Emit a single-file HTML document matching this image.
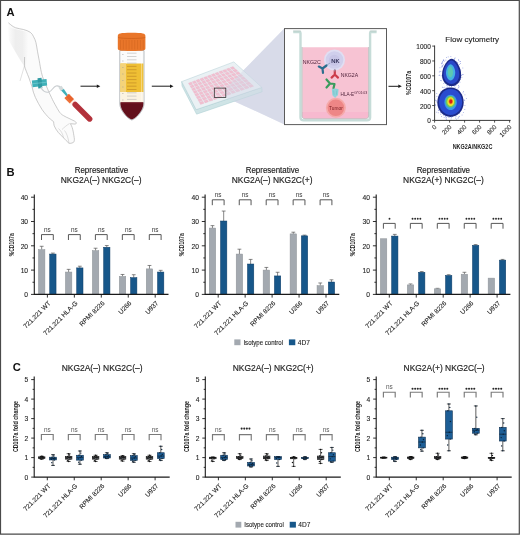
<!DOCTYPE html><html><head><meta charset="utf-8"><style>html,body{margin:0;padding:0;background:#fff;}svg{display:block;will-change:transform;}</style></head><body>
<svg width="520" height="535" viewBox="0 0 520 535" font-family='"Liberation Sans", sans-serif'>
<rect width="520" height="535" fill="#fff"/>
<defs><linearGradient id="sh" x1="0" y1="0" x2="1" y2="0"><stop offset="0" stop-color="#fbfbfb"/><stop offset="0.35" stop-color="#eeeeee"/><stop offset="0.7" stop-color="#efefef"/><stop offset="1" stop-color="#fbfbfb"/></linearGradient></defs>
<path d="M8.4 22.8 C11 25 13 26.8 15.7 27.8 C18.5 28.6 21 29 23.5 29.5 C26 30.2 28.5 31 30.3 32.3 C31.8 33.5 32.9 35 33.6 36.8 C34.6 38.5 35.4 40.5 35.9 42.4 C36.6 45.5 37 48.5 37.5 51.4 C38.1 54.5 38.6 57.5 39.2 60.3 C40 65 40.6 69 41.4 72.4 C42.6 77.5 44.5 82.5 46.8 87 C48 90 49 92.5 50.2 94.8 C52 98.5 53 101 54.9 104.2 C56.5 107 58 110 59.6 112.3 C61 114 62.3 115 63.6 115.7 C65.5 116.8 67 117.5 69 118.4 C71 119.5 73 120.3 74.4 121 C75.5 121.7 76.4 122.4 76.4 123.1 C76.2 123.8 75.5 124.1 75.1 124.1 L70.4 123.7 C71.8 126 72.6 128.5 73.1 131.1 C73.6 134 74.2 137 74.4 139.2 C74.4 141 74 142.2 73.1 142.6 C71.8 143.3 70.2 143.5 69 143.3 C67 141.5 65.2 139.6 63.6 137.9 C61.8 136 60 134.3 58.3 132.5 C56.6 130.5 55.2 128 54.2 125.8 C53.8 124.4 53.7 123 53.6 121.7 C52.5 120.8 51.3 120 50.2 119 C47 116 44.5 113 42.1 109.6 C39.5 105.5 37.2 101.5 35.4 97.5 C33.8 94 32.8 90.5 32 86.7 C30.5 82.5 29.8 80.5 29 78 C27 73 25.5 69.5 24.4 66 C24.5 63 24.6 60 24.6 57 C21 52 14 44 9 38 C8.5 32 8.4 27 8.4 22.8 Z" fill="#fbfbfb"/>
<path d="M8.6 27 C12 28.5 20 30 28 32.5 C29 45 27.5 58 25.5 68 C20 60 13 48 8.8 40 Z" fill="url(#sh)"/>
<path d="M8.4 22.8 C11 25 13 26.8 15.7 27.8 C18.5 28.6 21 29 23.5 29.5 C26 30.2 28.5 31 30.3 32.3 C31.8 33.5 32.9 35 33.6 36.8 C34.6 38.5 35.4 40.5 35.9 42.4 C36.6 45.5 37 48.5 37.5 51.4 C38.1 54.5 38.6 57.5 39.2 60.3 C40 65 40.6 69 41.4 72.4 C42.6 77.5 44.5 82.5 46.8 87 C48 90 49 92.5 50.2 94.8 C52 98.5 53 101 54.9 104.2 C56.5 107 58 110 59.6 112.3 C61 114 62.3 115 63.6 115.7 C65.5 116.8 67 117.5 69 118.4 C71 119.5 73 120.3 74.4 121 C75.5 121.7 76.4 122.4 76.4 123.1 C76.2 123.8 75.5 124.1 75.1 124.1 L70.4 123.7 C71.8 126 72.6 128.5 73.1 131.1 C73.6 134 74.2 137 74.4 139.2 C74.4 141 74 142.2 73.1 142.6 C71.8 143.3 70.2 143.5 69 143.3 C67 141.5 65.2 139.6 63.6 137.9 C61.8 136 60 134.3 58.3 132.5 C56.6 130.5 55.2 128 54.2 125.8 C53.8 124.4 53.7 123 53.6 121.7 C52.5 120.8 51.3 120 50.2 119 C47 116 44.5 113 42.1 109.6 C39.5 105.5 37.2 101.5 35.4 97.5 C33.8 94 32.8 90.5 32 86.7 C30.5 82.5 29.8 80.5 29 78 C27 73 25.5 69.5 24.4 66 C24.5 63 24.6 60 24.6 57" fill="none" stroke="#a9a9a9" stroke-width="0.6"/>
<path d="M24.4 66 C23 71 21.5 76 20 81" fill="none" stroke="#c4c4c4" stroke-width="0.5"/>
<path d="M69.5 123.5 C67 125 64 127.5 62 129.5 M63.6 137.9 C62.5 133 61 131 58.5 128.5 M69 143.3 C68 137 66.5 133 64.5 130.5" stroke="#b9b9b9" stroke-width="0.45" fill="none"/>
<path d="M31.8 80.5 L46.5 79 L47.2 85.4 L32.6 87.2 Z" fill="#3fb0b8"/>
<path d="M37.5 78.2 L41.5 77.8 L42.3 88 L38.3 88.4 Z" fill="#2f9aa3"/>
<path d="M32 83.8 L47 82.2" stroke="#7fd0d6" stroke-width="0.6"/>
<path d="M41 87 C42 91 46 93 49 92 C52 91 53 87 56 86 C58 85.5 60 86.5 61.5 88" fill="none" stroke="#c9cdd0" stroke-width="1.1"/>
<path d="M58.4 87.4 L61.6 85.8 L64 89.6 L60.8 91.2 Z" fill="#d3dadb"/>
<path d="M61.2 90.4 L63.9 88.9 L67.9 95 L66.4 96.2 Z" fill="#3fb1ba"/>
<g transform="translate(69.6 98.9) rotate(-45)"><rect x="-3.1" y="-4.2" width="6.2" height="7.6" rx="0.6" fill="#e8642e"/><rect x="-3.1" y="-4.2" width="2" height="7.6" fill="#f07a40" opacity="0.6"/><rect x="-3" y="3.4" width="6" height="1.8" fill="#fbeae2"/><rect x="-2.75" y="5.1" width="5.5" height="26" rx="2.75" fill="#b5333c"/><path d="M-1 6 V29 M1 6 V29" stroke="#9e2a33" stroke-width="0.35"/></g>
<path d="M80.5 86.2H97.3" stroke="#1a1a1a" stroke-width="1"/>
<path d="M96.8 84.4L100.3 86.2L96.8 88Z" fill="#1a1a1a"/>
<path d="M119.8 50.5 L144 50.5 L144 104 C144 110 136 119 131.8 120 C127.5 119 119.8 110 119.8 104 Z" fill="#fbfbfb" stroke="#9aa0a6" stroke-width="0.7"/>
<path d="M120.4 63.5 L143.4 63.5 L143.4 92 L120.4 92 Z" fill="#efbf34"/>
<path d="M120.4 63.5 L126 63.5 L126 92 L120.4 92 Z" fill="#f4d37a"/>
<path d="M120.4 92 L143.4 92 L143.4 102.3 L120.4 102.3 Z" fill="#fbf3e2"/>
<path d="M120.4 102.3 L143.4 102.3 L143.4 104 C143.4 110 136 118.5 131.8 119.4 C127.5 118.5 120.4 110 120.4 104 Z" fill="#63101c"/>
<path d="M121 103 L143 103" stroke="#7a1a26" stroke-width="0.8"/>
<path d="M127 66.4H136.5M127 69.7H136.5M127 73H136.5M127 76.3H136.5M127 79.6H136.5M127 82.9H136.5M127 86.2H136.5M127 89.5H136.5" stroke="#b57d22" stroke-width="0.55"/>
<path d="M127 53.2H136.5M127 56.5H136.5M127 59.8H136.5M127 63.1H136.5M127 92.8H136.5M127 96.1H136.5M127 99.4H136.5" stroke="#a8a8a8" stroke-width="0.5"/>
<path d="M122 54.5h1.6M122 61h1.6M122 67.5h1.6M122 74h1.6M122 80.5h1.6M122 87h1.6M122 93.5h1.6M122 100h1.6" stroke="#9a9a9a" stroke-width="0.45"/>
<path d="M141.6 52 V101" stroke="#ffffff" stroke-width="0.8" opacity="0.5"/>
<path d="M117.8 36 C117.8 33.5 120 32.8 131.5 32.8 C143 32.8 145.4 33.5 145.4 36 L145.4 48.5 C145.4 50.3 143.5 51 131.5 51 C119.5 51 117.8 50.3 117.8 48.5 Z" fill="#e9762a"/>
<path d="M118 37.5 C122 38.8 141 38.8 145.2 37.5" stroke="#c75a16" stroke-width="0.6" fill="none"/>
<path d="M120.5 40V49.5M123.35 40V49.5M126.2 40V49.5M129.05 40V49.5M131.9 40V49.5M134.75 40V49.5M137.6 40V49.5M140.45 40V49.5M143.3 40V49.5" stroke="#c95e1a" stroke-width="0.5" opacity="0.8"/>
<path d="M151.8 86.2H170.5" stroke="#1a1a1a" stroke-width="1"/>
<path d="M170 84.4L173.5 86.2L170 88Z" fill="#1a1a1a"/>
<path d="M225.8 88.3 L284.3 28.6 L284.5 124.4 L225.8 97.4 Z" fill="#dcdfec"/>
<path d="M181.7 81.6L196.2 109.6L261.8 87.4L262.1 91.8L196.6 114.2L182 86Z" fill="#cfe4e6" stroke="#a9cdd1" stroke-width="0.5"/>
<path d="M181.7 81.6L233.8 61.9L261.8 87.4L196.2 109.6Z" fill="#eaf1f4" stroke="#b3cfd4" stroke-width="0.5"/>
<path d="M188.49 83.14L191.37 82.07L192.6 84.15L189.67 85.23ZM192.27 81.73L195.15 80.66L196.46 82.72L193.53 83.8ZM196.06 80.33L198.93 79.25L200.31 81.3L197.38 82.38ZM199.84 78.92L202.72 77.85L204.17 79.88L201.24 80.96ZM203.63 77.51L206.5 76.44L208.03 78.46L205.1 79.54ZM207.41 76.1L210.29 75.03L211.88 77.04L208.95 78.12ZM211.2 74.69L214.07 73.62L215.74 75.61L212.81 76.7ZM214.98 73.28L217.86 72.21L219.59 74.19L216.66 75.27ZM218.77 71.87L221.64 70.8L223.45 72.77L220.52 73.85ZM222.55 70.46L225.43 69.39L227.31 71.35L224.38 72.43ZM226.33 69.06L229.21 67.99L231.16 69.93L228.23 71.01ZM230.12 67.65L233 66.58L235.02 68.51L232.09 69.59ZM190.05 85.88L192.99 84.8L194.23 86.87L191.23 87.97ZM193.92 84.46L196.87 83.37L198.18 85.44L195.18 86.53ZM197.8 83.03L200.75 81.95L202.13 84L199.13 85.09ZM201.68 81.61L204.63 80.52L206.08 82.56L203.08 83.65ZM205.56 80.18L208.51 79.1L210.03 81.12L207.03 82.21ZM209.44 78.75L212.39 77.67L213.98 79.68L210.98 80.77ZM213.32 77.33L216.26 76.24L217.93 78.24L214.93 79.33ZM217.19 75.9L220.14 74.82L221.88 76.8L218.88 77.89ZM221.07 74.48L224.02 73.39L225.83 75.36L222.83 76.45ZM224.95 73.05L227.9 71.97L229.78 73.92L226.78 75.01ZM228.83 71.62L231.78 70.54L233.73 72.48L230.73 73.58ZM232.71 70.2L235.66 69.11L237.68 71.04L234.68 72.14ZM191.6 88.63L194.62 87.53L195.86 89.6L192.79 90.71ZM195.57 87.18L198.59 86.09L199.9 88.15L196.83 89.25ZM199.55 85.74L202.57 84.64L203.95 86.69L200.87 87.8ZM203.52 84.3L206.54 83.2L207.99 85.23L204.92 86.34ZM207.49 82.85L210.51 81.76L212.03 83.78L208.96 84.88ZM211.46 81.41L214.48 80.31L216.08 82.32L213 83.43ZM215.44 79.97L218.45 78.87L220.12 80.86L217.05 81.97ZM219.41 78.52L222.43 77.43L224.16 79.41L221.09 80.51ZM223.38 77.08L226.4 75.98L228.21 77.95L225.13 79.06ZM227.35 75.64L230.37 74.54L232.25 76.49L229.18 77.6ZM231.33 74.19L234.34 73.09L236.29 75.04L233.22 76.14ZM235.3 72.75L238.32 71.65L240.34 73.58L237.27 74.69ZM193.16 91.37L196.25 90.26L197.49 92.33L194.34 93.45ZM197.22 89.91L200.32 88.8L201.62 90.86L198.48 91.98ZM201.29 88.45L204.38 87.34L205.76 89.38L202.62 90.5ZM205.36 86.99L208.45 85.88L209.9 87.91L206.75 89.03ZM209.42 85.52L212.51 84.41L214.04 86.44L210.89 87.56ZM213.49 84.06L216.58 82.95L218.17 84.96L215.03 86.08ZM217.56 82.6L220.65 81.49L222.31 83.49L219.17 84.61ZM221.62 81.14L224.71 80.03L226.45 82.01L223.3 83.13ZM225.69 79.68L228.78 78.57L230.59 80.54L227.44 81.66ZM229.75 78.22L232.84 77.11L234.72 79.07L231.58 80.19ZM233.82 76.76L236.91 75.65L238.86 77.59L235.72 78.71ZM237.89 75.3L240.98 74.19L243 76.12L239.85 77.24ZM194.72 94.11L197.88 92.99L199.11 95.06L195.9 96.19ZM198.88 92.63L202.04 91.51L203.35 93.57L200.13 94.7ZM203.04 91.15L206.2 90.03L207.58 92.08L204.36 93.21ZM207.2 89.68L210.36 88.55L211.81 90.59L208.59 91.72ZM211.36 88.2L214.52 87.07L216.04 89.09L212.82 90.23ZM215.52 86.72L218.68 85.6L220.27 87.6L217.05 88.74ZM219.68 85.24L222.84 84.12L224.5 86.11L221.29 87.25ZM223.84 83.76L227 82.64L228.73 84.62L225.52 85.75ZM228 82.28L231.16 81.16L232.96 83.13L229.75 84.26ZM232.16 80.81L235.32 79.68L237.2 81.64L233.98 82.77ZM236.32 79.33L239.48 78.2L241.43 80.15L238.21 81.28ZM240.48 77.85L243.64 76.73L245.66 78.66L242.44 79.79ZM196.27 96.85L199.5 95.72L200.74 97.79L197.45 98.94ZM200.53 95.36L203.76 94.22L205.07 96.28L201.78 97.43ZM204.78 93.86L208.01 92.72L209.39 94.77L206.1 95.92ZM209.03 92.37L212.27 91.23L213.72 93.26L210.43 94.41ZM213.29 90.87L216.52 89.73L218.04 91.75L214.76 92.9ZM217.54 89.37L220.77 88.24L222.37 90.25L219.08 91.39ZM221.8 87.88L225.03 86.74L226.69 88.74L223.41 89.88ZM226.05 86.38L229.28 85.25L231.02 87.23L227.73 88.37ZM230.3 84.89L233.54 83.75L235.34 85.72L232.06 86.87ZM234.56 83.39L237.79 82.26L239.67 84.21L236.38 85.36ZM238.81 81.9L242.04 80.76L243.99 82.7L240.71 83.85ZM243.06 80.4L246.3 79.26L248.32 81.19L245.03 82.34ZM197.83 99.59L201.13 98.44L202.37 100.52L199.01 101.68ZM202.18 98.08L205.48 96.93L206.79 98.99L203.43 100.15ZM206.52 96.57L209.83 95.42L211.21 97.47L207.85 98.63ZM210.87 95.06L214.18 93.91L215.63 95.94L212.27 97.1ZM215.22 93.54L218.52 92.39L220.05 94.41L216.69 95.57ZM219.57 92.03L222.87 90.88L224.47 92.89L221.11 94.05ZM223.91 90.52L227.22 89.37L228.88 91.36L225.53 92.52ZM228.26 89L231.57 87.85L233.3 89.83L229.94 90.99ZM232.61 87.49L235.91 86.34L237.72 88.31L234.36 89.47ZM236.96 85.98L240.26 84.83L242.14 86.78L238.78 87.94ZM241.31 84.46L244.61 83.31L246.56 85.26L243.2 86.42ZM245.65 82.95L248.96 81.8L250.98 83.73L247.62 84.89ZM199.38 102.34L202.76 101.17L204 103.25L200.57 104.42ZM203.83 100.81L207.2 99.64L208.51 101.7L205.08 102.88ZM208.27 99.28L211.64 98.11L213.02 100.16L209.59 101.33ZM212.71 97.74L216.09 96.58L217.54 98.62L214.11 99.79ZM217.15 96.21L220.53 95.05L222.05 97.07L218.62 98.25ZM221.59 94.68L224.97 93.52L226.56 95.53L223.13 96.7ZM226.03 93.15L229.41 91.99L231.08 93.99L227.65 95.16ZM230.48 91.62L233.85 90.46L235.59 92.44L232.16 93.61ZM234.92 90.09L238.29 88.93L240.1 90.9L236.67 92.07ZM239.36 88.56L242.74 87.4L244.61 89.35L241.18 90.53ZM243.8 87.03L247.18 85.87L249.13 87.81L245.7 88.98ZM248.24 85.5L251.62 84.34L253.64 86.27L250.21 87.44Z" fill="#f1bfd0" stroke="#e8b2c6" stroke-width="0.3"/>
<path d="M225.8 88.3 L284.3 28.6 L284.5 124.4 L225.8 97.4 Z" fill="#d2d6e7" opacity="0.45"/>
<rect x="214.3" y="88.1" width="11.5" height="9.3" fill="none" stroke="#2a2a2a" stroke-width="0.75"/>
<rect x="284.5" y="28.6" width="102" height="96" fill="#fff" stroke="#5a5a5a" stroke-width="1"/>
<path d="M302.4 47.2 L368.3 47.2 L368.3 115.8 C368.3 117.6 367.4 118.4 365.6 118.4 L305.1 118.4 C303.3 118.4 302.4 117.6 302.4 115.8 Z" fill="#f7c3d3"/>
<path d="M302.4 112 L368.3 112 L368.3 115.8 C368.3 117.6 367.4 118.4 365.6 118.4 L305.1 118.4 C303.3 118.4 302.4 117.6 302.4 115.8 Z" fill="#f7b9cf"/>
<path d="M293.2 32 L299.6 32 C300.2 32 300.5 32.4 300.5 33 L300.5 117.5 C300.5 119.3 301.7 120.4 303.6 120.4 L367 120.4 C368.9 120.4 370.1 119.3 370.1 117.5 L370.1 33 C370.1 32.4 370.4 32 371 32 L376.6 32" fill="none" stroke="#c6dcd8" stroke-width="2.4"/>
<path d="M302.1 47 V116 C302.1 117.8 303.2 118.8 305 118.8 L365.7 118.8 C367.5 118.8 368.6 117.8 368.6 116 V47" fill="none" stroke="#9fa9a8" stroke-width="0.6"/>
<path d="M293.2 30.9 L300.9 30.9 M369.8 30.9 L376.6 30.9" stroke="#a9b8b6" stroke-width="0.5"/>
<circle cx="334.5" cy="60" r="10.5" fill="#e0def2" />
<circle cx="334.5" cy="60" r="8.8" fill="#d0cfec" />
<circle cx="334.3" cy="60.3" r="5.5" fill="#c3c1e4" opacity="0.7"/>
<text x="335.4" y="63.3" text-anchor="middle" font-size="5.9" fill="#1e1c44" stroke="#1e1c44" stroke-width="0.12">NK</text>
<text x="302.7" y="64.2" font-size="5.4" fill="#4a1e36" textLength="18" lengthAdjust="spacingAndGlyphs">NKG2C</text>
<path d="M326.5 65.5 L322.5 68.5 M322.5 68.5 L318.8 66.6 M322.5 68.5 L323 72.8" stroke="#2c6e8e" stroke-width="2.2" stroke-linecap="round" fill="none"/>
<path d="M327 65 L330 63" stroke="#8aa6c2" stroke-width="0.9"/>
<path d="M334.8 70.5 V74.5 M334.8 74.5 L331.6 77.6 M334.8 74.5 L338 77.6" stroke="#cc3b4a" stroke-width="2.2" stroke-linecap="round" fill="none"/>
<path d="M334.8 69 V71.5" stroke="#8aa6c2" stroke-width="0.9"/>
<text x="340.7" y="77.2" font-size="5.4" fill="#4a1e36" textLength="17.5" lengthAdjust="spacingAndGlyphs">NKG2A</text>
<path d="M326.5 79.5 L330 83.5 L326.5 87.5 M330 83.5 L334.5 84 M334.5 84 L333.5 88.2" stroke="#3a9b5c" stroke-width="2.2" stroke-linecap="round" fill="none"/>
<path d="M331.8 89.2 C333.5 88.4 336.5 88.4 338.6 89.2 L338 95 C337.2 96.2 336.2 96.6 335.6 97 L335.4 99.8 L334.8 99.8 L334.6 97 C333.6 96.6 332.8 96 332.4 95 Z" fill="#8fd3da"/>
<path d="M333.6 90.5 L334 94.8 M336.8 90.5 L336.4 94.8" stroke="#6fb8c2" stroke-width="0.5"/>
<text x="340.6" y="96.4" font-size="5.4" fill="#4a1e36" textLength="13.5" lengthAdjust="spacingAndGlyphs">HLA-E</text>
<text x="354.3" y="94.4" font-size="3.2" fill="#4a1e36" textLength="13" lengthAdjust="spacingAndGlyphs">G*01:03</text>
<circle cx="335.9" cy="107.8" r="10" fill="#f5a9a9" />
<circle cx="335.9" cy="107.8" r="8.3" fill="#ee8686" />
<text x="335.9" y="109.6" text-anchor="middle" font-size="4.8" fill="#7a1d22">Tumor</text>
<path d="M388.5 86.3H398.8" stroke="#1a1a1a" stroke-width="1"/>
<path d="M398.3 84.5L401.8 86.3L398.3 88.1Z" fill="#1a1a1a"/>
<text x="472.2" y="41.6" text-anchor="middle" font-size="7.8" fill="#1e1e1e" stroke="#1e1e1e" stroke-width="0.12" textLength="53.8" lengthAdjust="spacingAndGlyphs">Flow cytometry</text>
<path d="M434.6 45.5V120.4H510.6" fill="none" stroke="#222" stroke-width="0.9"/>
<path d="M432.2 120.4H434.6M434.6 120.4V122.6M432.2 105.54H434.6M449.6 120.4V122.6M432.2 90.68H434.6M464.6 120.4V122.6M432.2 75.82H434.6M479.6 120.4V122.6M432.2 60.96H434.6M494.6 120.4V122.6M432.2 46.1H434.6M509.6 120.4V122.6" stroke="#222" stroke-width="0.8"/>
<text x="430.8" y="123.4" text-anchor="end" font-size="6.5" fill="#1e1e1e" stroke="#1e1e1e" stroke-width="0.1">0</text>
<text x="436.9" y="127.5" text-anchor="end" transform="rotate(-45 436.9 127.5)" font-size="6.3" fill="#1e1e1e" stroke="#1e1e1e" stroke-width="0.1">0</text>
<text x="430.8" y="108.54" text-anchor="end" font-size="6.5" fill="#1e1e1e" stroke="#1e1e1e" stroke-width="0.1">200</text>
<text x="451.9" y="127.5" text-anchor="end" transform="rotate(-45 451.9 127.5)" font-size="6.3" fill="#1e1e1e" stroke="#1e1e1e" stroke-width="0.1">200</text>
<text x="430.8" y="93.68" text-anchor="end" font-size="6.5" fill="#1e1e1e" stroke="#1e1e1e" stroke-width="0.1">400</text>
<text x="466.9" y="127.5" text-anchor="end" transform="rotate(-45 466.9 127.5)" font-size="6.3" fill="#1e1e1e" stroke="#1e1e1e" stroke-width="0.1">400</text>
<text x="430.8" y="78.82" text-anchor="end" font-size="6.5" fill="#1e1e1e" stroke="#1e1e1e" stroke-width="0.1">600</text>
<text x="481.9" y="127.5" text-anchor="end" transform="rotate(-45 481.9 127.5)" font-size="6.3" fill="#1e1e1e" stroke="#1e1e1e" stroke-width="0.1">600</text>
<text x="430.8" y="63.96" text-anchor="end" font-size="6.5" fill="#1e1e1e" stroke="#1e1e1e" stroke-width="0.1">800</text>
<text x="496.9" y="127.5" text-anchor="end" transform="rotate(-45 496.9 127.5)" font-size="6.3" fill="#1e1e1e" stroke="#1e1e1e" stroke-width="0.1">800</text>
<text x="430.8" y="49.1" text-anchor="end" font-size="6.5" fill="#1e1e1e" stroke="#1e1e1e" stroke-width="0.1">1000</text>
<text x="511.9" y="127.5" text-anchor="end" transform="rotate(-45 511.9 127.5)" font-size="6.3" fill="#1e1e1e" stroke="#1e1e1e" stroke-width="0.1">1000</text>
<text x="472.5" y="149.2" text-anchor="middle" font-size="7.2" font-weight="bold" fill="#222" textLength="39.7" lengthAdjust="spacingAndGlyphs">NKG2A/NKG2C</text>
<text x="411" y="83" transform="rotate(-90 411 83)" text-anchor="middle" font-size="7" font-weight="bold" fill="#222" textLength="24.2" lengthAdjust="spacingAndGlyphs">%CD107a</text>
<g>
<rect x="451.44" y="87.59" width="0.7" height="0.7" fill="#6f7fd8"/><rect x="441.53" y="63.56" width="0.7" height="0.7" fill="#6f7fd8"/><rect x="462.73" y="74.14" width="0.7" height="0.7" fill="#6f7fd8"/><rect x="451.85" y="89.7" width="0.7" height="0.7" fill="#6f7fd8"/><rect x="457.58" y="88.6" width="0.7" height="0.7" fill="#6f7fd8"/><rect x="458.96" y="115.96" width="0.7" height="0.7" fill="#6f7fd8"/><rect x="435.16" y="99.78" width="0.7" height="0.7" fill="#6f7fd8"/><rect x="464.45" y="109.14" width="0.7" height="0.7" fill="#6f7fd8"/><rect x="446.49" y="115.26" width="0.7" height="0.7" fill="#6f7fd8"/><rect x="435.32" y="105.24" width="0.7" height="0.7" fill="#6f7fd8"/><rect x="447.81" y="56.6" width="0.7" height="0.7" fill="#6f7fd8"/><rect x="454.68" y="87.27" width="0.7" height="0.7" fill="#6f7fd8"/><rect x="457.5" y="64.04" width="0.7" height="0.7" fill="#6f7fd8"/><rect x="453.2" y="89.27" width="0.7" height="0.7" fill="#6f7fd8"/><rect x="441.01" y="91.53" width="0.7" height="0.7" fill="#6f7fd8"/><rect x="440.12" y="112.38" width="0.7" height="0.7" fill="#6f7fd8"/><rect x="436.44" y="93.09" width="0.7" height="0.7" fill="#6f7fd8"/><rect x="464.58" y="94.53" width="0.7" height="0.7" fill="#6f7fd8"/><rect x="444.3" y="89.67" width="0.7" height="0.7" fill="#6f7fd8"/><rect x="465.96" y="98.27" width="0.7" height="0.7" fill="#6f7fd8"/><rect x="447.4" y="88.07" width="0.7" height="0.7" fill="#6f7fd8"/><rect x="441.47" y="66.74" width="0.7" height="0.7" fill="#6f7fd8"/><rect x="458.32" y="59.34" width="0.7" height="0.7" fill="#6f7fd8"/><rect x="453.93" y="59.32" width="0.7" height="0.7" fill="#6f7fd8"/><rect x="446.1" y="119.17" width="0.7" height="0.7" fill="#6f7fd8"/><rect x="461.54" y="76.96" width="0.7" height="0.7" fill="#6f7fd8"/><rect x="447.66" y="87.36" width="0.7" height="0.7" fill="#6f7fd8"/><rect x="464.41" y="100.34" width="0.7" height="0.7" fill="#6f7fd8"/><rect x="445.82" y="115.24" width="0.7" height="0.7" fill="#6f7fd8"/><rect x="460.29" y="75.38" width="0.7" height="0.7" fill="#6f7fd8"/><rect x="443.11" y="64.5" width="0.7" height="0.7" fill="#6f7fd8"/><rect x="459.29" y="91.11" width="0.7" height="0.7" fill="#6f7fd8"/><rect x="458.99" y="64.31" width="0.7" height="0.7" fill="#6f7fd8"/><rect x="435.56" y="100.18" width="0.7" height="0.7" fill="#6f7fd8"/><rect x="436.56" y="96.21" width="0.7" height="0.7" fill="#6f7fd8"/><rect x="436.44" y="101.61" width="0.7" height="0.7" fill="#6f7fd8"/><rect x="451.33" y="117.34" width="0.7" height="0.7" fill="#6f7fd8"/><rect x="439.56" y="70.84" width="0.7" height="0.7" fill="#6f7fd8"/><rect x="440.91" y="80.42" width="0.7" height="0.7" fill="#6f7fd8"/><rect x="442.06" y="62.66" width="0.7" height="0.7" fill="#6f7fd8"/><rect x="440.52" y="90.86" width="0.7" height="0.7" fill="#6f7fd8"/><rect x="441.2" y="116.06" width="0.7" height="0.7" fill="#6f7fd8"/><rect x="462.34" y="104.22" width="0.7" height="0.7" fill="#6f7fd8"/><rect x="460.41" y="69.73" width="0.7" height="0.7" fill="#6f7fd8"/><rect x="441.98" y="65.23" width="0.7" height="0.7" fill="#6f7fd8"/><rect x="445.09" y="116.56" width="0.7" height="0.7" fill="#6f7fd8"/><rect x="446.06" y="117.01" width="0.7" height="0.7" fill="#6f7fd8"/><rect x="464.6" y="105.08" width="0.7" height="0.7" fill="#6f7fd8"/><rect x="445.55" y="115.94" width="0.7" height="0.7" fill="#6f7fd8"/><rect x="451.3" y="85.9" width="0.7" height="0.7" fill="#6f7fd8"/><rect x="447.54" y="60.75" width="0.7" height="0.7" fill="#6f7fd8"/><rect x="444.5" y="86.82" width="0.7" height="0.7" fill="#6f7fd8"/><rect x="456.62" y="62.52" width="0.7" height="0.7" fill="#6f7fd8"/><rect x="443.36" y="59.48" width="0.7" height="0.7" fill="#6f7fd8"/><rect x="452.24" y="116.26" width="0.7" height="0.7" fill="#6f7fd8"/><rect x="455.97" y="118.82" width="0.7" height="0.7" fill="#6f7fd8"/><rect x="455.64" y="115.98" width="0.7" height="0.7" fill="#6f7fd8"/><rect x="443.03" y="60.29" width="0.7" height="0.7" fill="#6f7fd8"/><rect x="459.37" y="113.24" width="0.7" height="0.7" fill="#6f7fd8"/><rect x="449.22" y="86.57" width="0.7" height="0.7" fill="#6f7fd8"/><rect x="438.24" y="109.86" width="0.7" height="0.7" fill="#6f7fd8"/><rect x="456.93" y="113.53" width="0.7" height="0.7" fill="#6f7fd8"/><rect x="459.86" y="61.2" width="0.7" height="0.7" fill="#6f7fd8"/><rect x="462.48" y="67.67" width="0.7" height="0.7" fill="#6f7fd8"/><rect x="449.85" y="84.41" width="0.7" height="0.7" fill="#6f7fd8"/><rect x="440.46" y="71.18" width="0.7" height="0.7" fill="#6f7fd8"/><rect x="452.02" y="116.02" width="0.7" height="0.7" fill="#6f7fd8"/><rect x="447.82" y="88.46" width="0.7" height="0.7" fill="#6f7fd8"/><rect x="462.7" y="92.54" width="0.7" height="0.7" fill="#6f7fd8"/><rect x="463.07" y="91.27" width="0.7" height="0.7" fill="#6f7fd8"/><rect x="462.4" y="74.1" width="0.7" height="0.7" fill="#6f7fd8"/><rect x="445.69" y="118.45" width="0.7" height="0.7" fill="#6f7fd8"/><rect x="436.41" y="111.81" width="0.7" height="0.7" fill="#6f7fd8"/><rect x="443.22" y="114.75" width="0.7" height="0.7" fill="#6f7fd8"/><rect x="438.75" y="75.08" width="0.7" height="0.7" fill="#6f7fd8"/><rect x="454.96" y="117.72" width="0.7" height="0.7" fill="#6f7fd8"/><rect x="457.67" y="117.84" width="0.7" height="0.7" fill="#6f7fd8"/><rect x="454.78" y="57.63" width="0.7" height="0.7" fill="#6f7fd8"/><rect x="442.13" y="60.98" width="0.7" height="0.7" fill="#6f7fd8"/><rect x="448.54" y="117.08" width="0.7" height="0.7" fill="#6f7fd8"/><rect x="437.85" y="109.74" width="0.7" height="0.7" fill="#6f7fd8"/><rect x="459.98" y="72.94" width="0.7" height="0.7" fill="#6f7fd8"/><rect x="458.94" y="112.08" width="0.7" height="0.7" fill="#6f7fd8"/><rect x="457.79" y="91.24" width="0.7" height="0.7" fill="#6f7fd8"/><rect x="446.46" y="85.38" width="0.7" height="0.7" fill="#6f7fd8"/><rect x="443.8" y="60.81" width="0.7" height="0.7" fill="#6f7fd8"/><rect x="454.35" y="85.67" width="0.7" height="0.7" fill="#6f7fd8"/><rect x="439.57" y="67.45" width="0.7" height="0.7" fill="#6f7fd8"/><rect x="459.21" y="79.1" width="0.7" height="0.7" fill="#6f7fd8"/><rect x="441.11" y="63.06" width="0.7" height="0.7" fill="#6f7fd8"/><rect x="454.2" y="58.37" width="0.7" height="0.7" fill="#6f7fd8"/><rect x="440.44" y="113.87" width="0.7" height="0.7" fill="#6f7fd8"/><rect x="440.37" y="80.25" width="0.7" height="0.7" fill="#6f7fd8"/><rect x="450.74" y="118.61" width="0.7" height="0.7" fill="#6f7fd8"/><rect x="460.23" y="79" width="0.7" height="0.7" fill="#6f7fd8"/><rect x="459.71" y="61.34" width="0.7" height="0.7" fill="#6f7fd8"/><rect x="460.21" y="63.22" width="0.7" height="0.7" fill="#6f7fd8"/><rect x="438.17" y="105.46" width="0.7" height="0.7" fill="#6f7fd8"/><rect x="441.93" y="86.83" width="0.7" height="0.7" fill="#6f7fd8"/><rect x="442.74" y="87.23" width="0.7" height="0.7" fill="#6f7fd8"/><rect x="459.59" y="81.88" width="0.7" height="0.7" fill="#6f7fd8"/><rect x="458.01" y="85.29" width="0.7" height="0.7" fill="#6f7fd8"/><rect x="460.64" y="109.95" width="0.7" height="0.7" fill="#6f7fd8"/><rect x="455.46" y="114.6" width="0.7" height="0.7" fill="#6f7fd8"/><rect x="461.72" y="114.68" width="0.7" height="0.7" fill="#6f7fd8"/><rect x="458.69" y="86.45" width="0.7" height="0.7" fill="#6f7fd8"/><rect x="453.93" y="89.25" width="0.7" height="0.7" fill="#6f7fd8"/><rect x="438.9" y="71.69" width="0.7" height="0.7" fill="#6f7fd8"/><rect x="450.52" y="56.11" width="0.7" height="0.7" fill="#6f7fd8"/><rect x="443.79" y="117" width="0.7" height="0.7" fill="#6f7fd8"/><rect x="451.09" y="85.88" width="0.7" height="0.7" fill="#6f7fd8"/><rect x="441.74" y="62.26" width="0.7" height="0.7" fill="#6f7fd8"/><rect x="443.47" y="83.25" width="0.7" height="0.7" fill="#6f7fd8"/><rect x="439.62" y="109.15" width="0.7" height="0.7" fill="#6f7fd8"/><rect x="463.89" y="99.66" width="0.7" height="0.7" fill="#6f7fd8"/><rect x="458.33" y="116.8" width="0.7" height="0.7" fill="#6f7fd8"/><rect x="445.52" y="59.75" width="0.7" height="0.7" fill="#6f7fd8"/><rect x="442.88" y="59.89" width="0.7" height="0.7" fill="#6f7fd8"/><rect x="462.94" y="112.17" width="0.7" height="0.7" fill="#6f7fd8"/><rect x="436.45" y="100.59" width="0.7" height="0.7" fill="#6f7fd8"/><rect x="454.56" y="85.24" width="0.7" height="0.7" fill="#6f7fd8"/><rect x="441.75" y="65.76" width="0.7" height="0.7" fill="#6f7fd8"/><rect x="446.05" y="57.16" width="0.7" height="0.7" fill="#6f7fd8"/><rect x="446.48" y="87.24" width="0.7" height="0.7" fill="#6f7fd8"/><rect x="441.87" y="65.95" width="0.7" height="0.7" fill="#6f7fd8"/><rect x="461.38" y="74.9" width="0.7" height="0.7" fill="#6f7fd8"/><rect x="455.51" y="85.12" width="0.7" height="0.7" fill="#6f7fd8"/><rect x="452.2" y="88.21" width="0.7" height="0.7" fill="#6f7fd8"/><rect x="439.37" y="74.73" width="0.7" height="0.7" fill="#6f7fd8"/><rect x="458.24" y="86.94" width="0.7" height="0.7" fill="#6f7fd8"/><rect x="435.2" y="104.33" width="0.7" height="0.7" fill="#6f7fd8"/><rect x="437.93" y="112.48" width="0.7" height="0.7" fill="#6f7fd8"/><rect x="440.81" y="75.51" width="0.7" height="0.7" fill="#6f7fd8"/><rect x="447.27" y="85.6" width="0.7" height="0.7" fill="#6f7fd8"/><rect x="456.7" y="62.16" width="0.7" height="0.7" fill="#6f7fd8"/><rect x="449.61" y="116.76" width="0.7" height="0.7" fill="#6f7fd8"/><rect x="458.41" y="59.97" width="0.7" height="0.7" fill="#6f7fd8"/><rect x="457.41" y="62.5" width="0.7" height="0.7" fill="#6f7fd8"/><rect x="449.35" y="60.26" width="0.7" height="0.7" fill="#6f7fd8"/><rect x="455.74" y="61.02" width="0.7" height="0.7" fill="#6f7fd8"/>
<path d="M451.6 58.8 C454.89 58.8 461.2 66.14 461.2 75.2 C461.2 81.22 456.9 86.1 451.6 86.1 C446.3 86.1 442 81.22 442 75.2 C442 66.14 448.31 58.8 451.6 58.8Z" fill="#1c2a88"/>
<path d="M451.4 60.6 C454.02 60.6 459.3 66.87 459.3 74.6 C459.3 79.79 455.76 84 451.4 84 C447.04 84 443.5 79.79 443.5 74.6 C443.5 66.87 448.78 60.6 451.4 60.6Z" fill="#2a48c8"/>
<path d="M450.6 64.2 C452.63 64.2 455.2 67.96 455.2 72.6 C455.2 76.91 453.14 80.4 450.6 80.4 C448.06 80.4 446 76.91 446 72.6 C446 67.96 448.57 64.2 450.6 64.2Z" fill="#45b2e2"/>
<path d="M450.4 66.6 C451.69 66.6 453 69.11 453 72.2 C453 75.07 451.84 77.4 450.4 77.4 C448.96 77.4 447.8 75.07 447.8 72.2 C447.8 69.11 449.11 66.6 450.4 66.6Z" fill="#5cc8b0"/>
<path d="M450.5 87.4 C458.88 87.4 463.7 94.21 463.7 102.6 C463.7 110.55 457.79 117 450.5 117 C443.21 117 437.3 110.55 437.3 102.6 C437.3 94.21 442.12 87.4 450.5 87.4Z" fill="#1c2a88"/>
<path d="M450.6 88.9 C457.59 88.9 462.1 94.9 462.1 102.3 C462.1 109.37 456.95 115.1 450.6 115.1 C444.25 115.1 439.1 109.37 439.1 102.3 C439.1 94.9 443.61 88.9 450.6 88.9Z" fill="#2a4cd0"/>
<path d="M450.6 94.8 C454.02 94.8 456.8 98.11 456.8 102.2 C456.8 106.51 454.02 110 450.6 110 C447.18 110 444.4 106.51 444.4 102.2 C444.4 98.11 447.18 94.8 450.6 94.8Z" fill="#3a9ae6"/>
<path d="M450.5 96 C453.21 96 455.4 98.6 455.4 101.8 C455.4 105 453.21 107.6 450.5 107.6 C447.79 107.6 445.6 105 445.6 101.8 C445.6 98.6 447.79 96 450.5 96Z" fill="#6cc85e"/>
<path d="M450.7 97.2 C452.58 97.2 454.1 99.21 454.1 101.7 C454.1 104.13 452.58 106.1 450.7 106.1 C448.82 106.1 447.3 104.13 447.3 101.7 C447.3 99.21 448.82 97.2 450.7 97.2Z" fill="#f1e22c"/>
<path d="M450.8 98.5 C452.02 98.5 453 99.84 453 101.5 C453 103.05 452.02 104.3 450.8 104.3 C449.58 104.3 448.6 103.05 448.6 101.5 C448.6 99.84 449.58 98.5 450.8 98.5Z" fill="#f08a1e"/>
<path d="M450.8 99.4 C451.63 99.4 452.3 100.34 452.3 101.5 C452.3 102.55 451.63 103.4 450.8 103.4 C449.97 103.4 449.3 102.55 449.3 101.5 C449.3 100.34 449.97 99.4 450.8 99.4Z" fill="#d91c14"/>
</g>
<path d="M41.68 249.69V246.29M39.78 246.29H43.58" stroke="#555" stroke-width="0.7" fill="none"/>
<rect x="38.45" y="249.69" width="6.45" height="44.71" fill="#a3a9b0" stroke="#8e9398" stroke-width="0.5"/>
<path d="M52.87 254.06V253.09M50.97 253.09H54.77" stroke="#555" stroke-width="0.7" fill="none"/>
<rect x="49.7" y="254.06" width="6.35" height="40.34" fill="#17578a" stroke="#0f3d66" stroke-width="0.5"/>
<path d="M41.5 240V234.6H53.3 V240" fill="none" stroke="#4e4e4e" stroke-width="0.95"/>
<text x="47.4" y="231.7" text-anchor="middle" font-size="6.4" fill="#3a3a3a">ns</text>
<path d="M68.62 272.04V269.37M66.72 269.37H70.52" stroke="#555" stroke-width="0.7" fill="none"/>
<rect x="65.4" y="272.04" width="6.45" height="22.36" fill="#a3a9b0" stroke="#8e9398" stroke-width="0.5"/>
<path d="M79.82 267.91V266.21M77.92 266.21H81.72" stroke="#555" stroke-width="0.7" fill="none"/>
<rect x="76.65" y="267.91" width="6.35" height="26.49" fill="#17578a" stroke="#0f3d66" stroke-width="0.5"/>
<path d="M68.45 240V234.6H80.25 V240" fill="none" stroke="#4e4e4e" stroke-width="0.95"/>
<text x="74.35" y="231.7" text-anchor="middle" font-size="6.4" fill="#3a3a3a">ns</text>
<path d="M95.57 250.66V248.23M93.67 248.23H97.47" stroke="#555" stroke-width="0.7" fill="none"/>
<rect x="92.35" y="250.66" width="6.45" height="43.74" fill="#a3a9b0" stroke="#8e9398" stroke-width="0.5"/>
<path d="M106.77 247.26V245.56M104.87 245.56H108.67" stroke="#555" stroke-width="0.7" fill="none"/>
<rect x="103.6" y="247.26" width="6.35" height="47.14" fill="#17578a" stroke="#0f3d66" stroke-width="0.5"/>
<path d="M95.4 240V234.6H107.2 V240" fill="none" stroke="#4e4e4e" stroke-width="0.95"/>
<text x="101.3" y="231.7" text-anchor="middle" font-size="6.4" fill="#3a3a3a">ns</text>
<path d="M122.52 276.42V274.47M120.62 274.47H124.42" stroke="#555" stroke-width="0.7" fill="none"/>
<rect x="119.3" y="276.42" width="6.45" height="17.98" fill="#a3a9b0" stroke="#8e9398" stroke-width="0.5"/>
<path d="M133.73 277.63V274.72M131.83 274.72H135.63" stroke="#555" stroke-width="0.7" fill="none"/>
<rect x="130.55" y="277.63" width="6.35" height="16.77" fill="#17578a" stroke="#0f3d66" stroke-width="0.5"/>
<path d="M122.35 240V234.6H134.15 V240" fill="none" stroke="#4e4e4e" stroke-width="0.95"/>
<text x="128.25" y="231.7" text-anchor="middle" font-size="6.4" fill="#3a3a3a">ns</text>
<path d="M149.47 268.88V265.48M147.57 265.48H151.38" stroke="#555" stroke-width="0.7" fill="none"/>
<rect x="146.25" y="268.88" width="6.45" height="25.51" fill="#a3a9b0" stroke="#8e9398" stroke-width="0.5"/>
<path d="M160.68 272.04V270.34M158.78 270.34H162.58" stroke="#555" stroke-width="0.7" fill="none"/>
<rect x="157.5" y="272.04" width="6.35" height="22.36" fill="#17578a" stroke="#0f3d66" stroke-width="0.5"/>
<path d="M149.3 240V234.6H161.1 V240" fill="none" stroke="#4e4e4e" stroke-width="0.95"/>
<text x="155.2" y="231.7" text-anchor="middle" font-size="6.4" fill="#3a3a3a">ns</text>
<path d="M34.3 194.6V294.4H168.5" fill="none" stroke="#1a1a1a" stroke-width="1.1"/>
<path d="M31 294.4H34.3M32.5 282.25H34.3M31 270.1H34.3M32.5 257.95H34.3M31 245.8H34.3M32.5 233.65H34.3M31 221.5H34.3M32.5 209.35H34.3M31 197.2H34.3M47.4 294.4V297.6M74.35 294.4V297.6M101.3 294.4V297.6M128.25 294.4V297.6M155.2 294.4V297.6" stroke="#1a1a1a" stroke-width="0.9"/>
<text x="28.1" y="297.15" text-anchor="end" font-size="6.7" fill="#1e1e1e" stroke="#1e1e1e" stroke-width="0.1">0</text>
<text x="28.1" y="272.85" text-anchor="end" font-size="6.7" fill="#1e1e1e" stroke="#1e1e1e" stroke-width="0.1">10</text>
<text x="28.1" y="248.55" text-anchor="end" font-size="6.7" fill="#1e1e1e" stroke="#1e1e1e" stroke-width="0.1">20</text>
<text x="28.1" y="224.25" text-anchor="end" font-size="6.7" fill="#1e1e1e" stroke="#1e1e1e" stroke-width="0.1">30</text>
<text x="28.1" y="199.95" text-anchor="end" font-size="6.7" fill="#1e1e1e" stroke="#1e1e1e" stroke-width="0.1">40</text>
<text x="13.6" y="244.8" transform="rotate(-90 13.6 244.8)" text-anchor="middle" font-size="7.8" font-weight="bold" fill="#222" textLength="23.0" lengthAdjust="spacingAndGlyphs">%CD107a</text>
<text x="51.1" y="303.7" text-anchor="end" transform="rotate(-45 51.1 303.7)" font-size="6.5" fill="#1e1e1e" stroke="#1e1e1e" stroke-width="0.1">721.221 WT</text>
<text x="78.05" y="303.7" text-anchor="end" transform="rotate(-45 78.05 303.7)" font-size="6.5" fill="#1e1e1e" stroke="#1e1e1e" stroke-width="0.1">721.221 HLA-G</text>
<text x="105" y="303.7" text-anchor="end" transform="rotate(-45 105 303.7)" font-size="6.5" fill="#1e1e1e" stroke="#1e1e1e" stroke-width="0.1">RPMI 8226</text>
<text x="131.95" y="303.7" text-anchor="end" transform="rotate(-45 131.95 303.7)" font-size="6.5" fill="#1e1e1e" stroke="#1e1e1e" stroke-width="0.1">U266</text>
<text x="158.9" y="303.7" text-anchor="end" transform="rotate(-45 158.9 303.7)" font-size="6.5" fill="#1e1e1e" stroke="#1e1e1e" stroke-width="0.1">U937</text>
<text x="101.4" y="173.1" text-anchor="middle" font-size="8.3" fill="#1e1e1e" stroke="#1e1e1e" stroke-width="0.16" textLength="53.4" lengthAdjust="spacingAndGlyphs">Representative</text>
<text x="101.15" y="183" text-anchor="middle" font-size="8.5" fill="#1e1e1e" stroke="#1e1e1e" stroke-width="0.16" textLength="80.8" lengthAdjust="spacingAndGlyphs">NKG2A(–) NKG2C(–)</text>
<path d="M212.47 228.06V225.63M210.57 225.63H214.38" stroke="#555" stroke-width="0.7" fill="none"/>
<rect x="209.25" y="228.06" width="6.45" height="66.34" fill="#a3a9b0" stroke="#8e9398" stroke-width="0.5"/>
<path d="M223.68 221.01V211.05M221.78 211.05H225.58" stroke="#555" stroke-width="0.7" fill="none"/>
<rect x="220.5" y="221.01" width="6.35" height="73.39" fill="#17578a" stroke="#0f3d66" stroke-width="0.5"/>
<path d="M212.3 205.2V199.8H224.1 V205.2" fill="none" stroke="#4e4e4e" stroke-width="0.95"/>
<text x="218.2" y="196.9" text-anchor="middle" font-size="6.4" fill="#3a3a3a">ns</text>
<path d="M239.42 254.06V249.2M237.52 249.2H241.32" stroke="#555" stroke-width="0.7" fill="none"/>
<rect x="236.2" y="254.06" width="6.45" height="40.34" fill="#a3a9b0" stroke="#8e9398" stroke-width="0.5"/>
<path d="M250.62 264.02V259.41M248.72 259.41H252.53" stroke="#555" stroke-width="0.7" fill="none"/>
<rect x="247.45" y="264.02" width="6.35" height="30.38" fill="#17578a" stroke="#0f3d66" stroke-width="0.5"/>
<path d="M239.25 205.2V199.8H251.05 V205.2" fill="none" stroke="#4e4e4e" stroke-width="0.95"/>
<text x="245.15" y="196.9" text-anchor="middle" font-size="6.4" fill="#3a3a3a">ns</text>
<path d="M266.38 270.1V267.43M264.48 267.43H268.27" stroke="#555" stroke-width="0.7" fill="none"/>
<rect x="263.15" y="270.1" width="6.45" height="24.3" fill="#a3a9b0" stroke="#8e9398" stroke-width="0.5"/>
<path d="M277.57 275.93V272.29M275.68 272.29H279.47" stroke="#555" stroke-width="0.7" fill="none"/>
<rect x="274.4" y="275.93" width="6.35" height="18.47" fill="#17578a" stroke="#0f3d66" stroke-width="0.5"/>
<path d="M266.2 205.2V199.8H278 V205.2" fill="none" stroke="#4e4e4e" stroke-width="0.95"/>
<text x="272.1" y="196.9" text-anchor="middle" font-size="6.4" fill="#3a3a3a">ns</text>
<path d="M293.32 233.89V232.19M291.43 232.19H295.22" stroke="#555" stroke-width="0.7" fill="none"/>
<rect x="290.1" y="233.89" width="6.45" height="60.51" fill="#a3a9b0" stroke="#8e9398" stroke-width="0.5"/>
<path d="M304.52 235.84V235.11M302.62 235.11H306.42" stroke="#555" stroke-width="0.7" fill="none"/>
<rect x="301.35" y="235.84" width="6.35" height="58.56" fill="#17578a" stroke="#0f3d66" stroke-width="0.5"/>
<path d="M293.15 205.2V199.8H304.95 V205.2" fill="none" stroke="#4e4e4e" stroke-width="0.95"/>
<text x="299.05" y="196.9" text-anchor="middle" font-size="6.4" fill="#3a3a3a">ns</text>
<path d="M320.28 285.65V282.98M318.38 282.98H322.18" stroke="#555" stroke-width="0.7" fill="none"/>
<rect x="317.05" y="285.65" width="6.45" height="8.75" fill="#a3a9b0" stroke="#8e9398" stroke-width="0.5"/>
<path d="M331.48 282.01V279.82M329.58 279.82H333.38" stroke="#555" stroke-width="0.7" fill="none"/>
<rect x="328.3" y="282.01" width="6.35" height="12.39" fill="#17578a" stroke="#0f3d66" stroke-width="0.5"/>
<path d="M320.1 205.2V199.8H331.9 V205.2" fill="none" stroke="#4e4e4e" stroke-width="0.95"/>
<text x="326" y="196.9" text-anchor="middle" font-size="6.4" fill="#3a3a3a">ns</text>
<path d="M205.1 194.6V294.4H339.3" fill="none" stroke="#1a1a1a" stroke-width="1.1"/>
<path d="M201.8 294.4H205.1M203.3 282.25H205.1M201.8 270.1H205.1M203.3 257.95H205.1M201.8 245.8H205.1M203.3 233.65H205.1M201.8 221.5H205.1M203.3 209.35H205.1M201.8 197.2H205.1M218.2 294.4V297.6M245.15 294.4V297.6M272.1 294.4V297.6M299.05 294.4V297.6M326 294.4V297.6" stroke="#1a1a1a" stroke-width="0.9"/>
<text x="198.9" y="297.15" text-anchor="end" font-size="6.7" fill="#1e1e1e" stroke="#1e1e1e" stroke-width="0.1">0</text>
<text x="198.9" y="272.85" text-anchor="end" font-size="6.7" fill="#1e1e1e" stroke="#1e1e1e" stroke-width="0.1">10</text>
<text x="198.9" y="248.55" text-anchor="end" font-size="6.7" fill="#1e1e1e" stroke="#1e1e1e" stroke-width="0.1">20</text>
<text x="198.9" y="224.25" text-anchor="end" font-size="6.7" fill="#1e1e1e" stroke="#1e1e1e" stroke-width="0.1">30</text>
<text x="198.9" y="199.95" text-anchor="end" font-size="6.7" fill="#1e1e1e" stroke="#1e1e1e" stroke-width="0.1">40</text>
<text x="184.4" y="244.8" transform="rotate(-90 184.4 244.8)" text-anchor="middle" font-size="7.8" font-weight="bold" fill="#222" textLength="23.0" lengthAdjust="spacingAndGlyphs">%CD107a</text>
<text x="221.9" y="303.7" text-anchor="end" transform="rotate(-45 221.9 303.7)" font-size="6.5" fill="#1e1e1e" stroke="#1e1e1e" stroke-width="0.1">721.221 WT</text>
<text x="248.85" y="303.7" text-anchor="end" transform="rotate(-45 248.85 303.7)" font-size="6.5" fill="#1e1e1e" stroke="#1e1e1e" stroke-width="0.1">721.221 HLA-G</text>
<text x="275.8" y="303.7" text-anchor="end" transform="rotate(-45 275.8 303.7)" font-size="6.5" fill="#1e1e1e" stroke="#1e1e1e" stroke-width="0.1">RPMI 8226</text>
<text x="302.75" y="303.7" text-anchor="end" transform="rotate(-45 302.75 303.7)" font-size="6.5" fill="#1e1e1e" stroke="#1e1e1e" stroke-width="0.1">U266</text>
<text x="329.7" y="303.7" text-anchor="end" transform="rotate(-45 329.7 303.7)" font-size="6.5" fill="#1e1e1e" stroke="#1e1e1e" stroke-width="0.1">U937</text>
<text x="272.4" y="173.1" text-anchor="middle" font-size="8.3" fill="#1e1e1e" stroke="#1e1e1e" stroke-width="0.16" textLength="53.4" lengthAdjust="spacingAndGlyphs">Representative</text>
<text x="272.1" y="183" text-anchor="middle" font-size="8.5" fill="#1e1e1e" stroke="#1e1e1e" stroke-width="0.16" textLength="80.8" lengthAdjust="spacingAndGlyphs">NKG2A(–) NKG2C(+)</text>
<rect x="380.35" y="238.75" width="6.45" height="55.65" fill="#a3a9b0" stroke="#8e9398" stroke-width="0.5"/>
<path d="M394.78 236.08V234.38M392.88 234.38H396.68" stroke="#555" stroke-width="0.7" fill="none"/>
<rect x="391.6" y="236.08" width="6.35" height="58.32" fill="#17578a" stroke="#0f3d66" stroke-width="0.5"/>
<path d="M383.4 228.7V223.4H395.2 V228.7" fill="none" stroke="#4e4e4e" stroke-width="0.95"/>
<circle cx="389.5" cy="218.7" r="0.95" fill="#2a2a2a"/>
<path d="M410.53 284.92V283.95M408.63 283.95H412.43" stroke="#555" stroke-width="0.7" fill="none"/>
<rect x="407.3" y="284.92" width="6.45" height="9.48" fill="#a3a9b0" stroke="#8e9398" stroke-width="0.5"/>
<path d="M421.73 272.29V271.56M419.83 271.56H423.62" stroke="#555" stroke-width="0.7" fill="none"/>
<rect x="418.55" y="272.29" width="6.35" height="22.11" fill="#17578a" stroke="#0f3d66" stroke-width="0.5"/>
<path d="M410.35 228.7V223.4H422.15 V228.7" fill="none" stroke="#4e4e4e" stroke-width="0.95"/>
<circle cx="412.55" cy="218.7" r="0.95" fill="#2a2a2a"/><circle cx="415.15" cy="218.7" r="0.95" fill="#2a2a2a"/><circle cx="417.75" cy="218.7" r="0.95" fill="#2a2a2a"/><circle cx="420.35" cy="218.7" r="0.95" fill="#2a2a2a"/>
<path d="M437.48 288.81V288.32M435.58 288.32H439.38" stroke="#555" stroke-width="0.7" fill="none"/>
<rect x="434.25" y="288.81" width="6.45" height="5.59" fill="#a3a9b0" stroke="#8e9398" stroke-width="0.5"/>
<path d="M448.68 275.45V274.72M446.78 274.72H450.57" stroke="#555" stroke-width="0.7" fill="none"/>
<rect x="445.5" y="275.45" width="6.35" height="18.95" fill="#17578a" stroke="#0f3d66" stroke-width="0.5"/>
<path d="M437.3 228.7V223.4H449.1 V228.7" fill="none" stroke="#4e4e4e" stroke-width="0.95"/>
<circle cx="439.5" cy="218.7" r="0.95" fill="#2a2a2a"/><circle cx="442.1" cy="218.7" r="0.95" fill="#2a2a2a"/><circle cx="444.7" cy="218.7" r="0.95" fill="#2a2a2a"/><circle cx="447.3" cy="218.7" r="0.95" fill="#2a2a2a"/>
<path d="M464.43 274.23V272.29M462.53 272.29H466.32" stroke="#555" stroke-width="0.7" fill="none"/>
<rect x="461.2" y="274.23" width="6.45" height="20.17" fill="#a3a9b0" stroke="#8e9398" stroke-width="0.5"/>
<path d="M475.62 245.31V244.58M473.73 244.58H477.52" stroke="#555" stroke-width="0.7" fill="none"/>
<rect x="472.45" y="245.31" width="6.35" height="49.09" fill="#17578a" stroke="#0f3d66" stroke-width="0.5"/>
<path d="M464.25 228.7V223.4H476.05 V228.7" fill="none" stroke="#4e4e4e" stroke-width="0.95"/>
<circle cx="466.45" cy="218.7" r="0.95" fill="#2a2a2a"/><circle cx="469.05" cy="218.7" r="0.95" fill="#2a2a2a"/><circle cx="471.65" cy="218.7" r="0.95" fill="#2a2a2a"/><circle cx="474.25" cy="218.7" r="0.95" fill="#2a2a2a"/>
<rect x="488.15" y="278.12" width="6.45" height="16.28" fill="#a3a9b0" stroke="#8e9398" stroke-width="0.5"/>
<path d="M502.58 260.14V259.41M500.68 259.41H504.48" stroke="#555" stroke-width="0.7" fill="none"/>
<rect x="499.4" y="260.14" width="6.35" height="34.26" fill="#17578a" stroke="#0f3d66" stroke-width="0.5"/>
<path d="M491.2 228.7V223.4H503 V228.7" fill="none" stroke="#4e4e4e" stroke-width="0.95"/>
<circle cx="493.4" cy="218.7" r="0.95" fill="#2a2a2a"/><circle cx="496" cy="218.7" r="0.95" fill="#2a2a2a"/><circle cx="498.6" cy="218.7" r="0.95" fill="#2a2a2a"/><circle cx="501.2" cy="218.7" r="0.95" fill="#2a2a2a"/>
<path d="M376.2 194.6V294.4H510.4" fill="none" stroke="#1a1a1a" stroke-width="1.1"/>
<path d="M372.9 294.4H376.2M374.4 282.25H376.2M372.9 270.1H376.2M374.4 257.95H376.2M372.9 245.8H376.2M374.4 233.65H376.2M372.9 221.5H376.2M374.4 209.35H376.2M372.9 197.2H376.2M389.3 294.4V297.6M416.25 294.4V297.6M443.2 294.4V297.6M470.15 294.4V297.6M497.1 294.4V297.6" stroke="#1a1a1a" stroke-width="0.9"/>
<text x="370" y="297.15" text-anchor="end" font-size="6.7" fill="#1e1e1e" stroke="#1e1e1e" stroke-width="0.1">0</text>
<text x="370" y="272.85" text-anchor="end" font-size="6.7" fill="#1e1e1e" stroke="#1e1e1e" stroke-width="0.1">10</text>
<text x="370" y="248.55" text-anchor="end" font-size="6.7" fill="#1e1e1e" stroke="#1e1e1e" stroke-width="0.1">20</text>
<text x="370" y="224.25" text-anchor="end" font-size="6.7" fill="#1e1e1e" stroke="#1e1e1e" stroke-width="0.1">30</text>
<text x="370" y="199.95" text-anchor="end" font-size="6.7" fill="#1e1e1e" stroke="#1e1e1e" stroke-width="0.1">40</text>
<text x="355.5" y="244.8" transform="rotate(-90 355.5 244.8)" text-anchor="middle" font-size="7.8" font-weight="bold" fill="#222" textLength="23.0" lengthAdjust="spacingAndGlyphs">%CD107a</text>
<text x="393" y="303.7" text-anchor="end" transform="rotate(-45 393 303.7)" font-size="6.5" fill="#1e1e1e" stroke="#1e1e1e" stroke-width="0.1">721.221 WT</text>
<text x="419.95" y="303.7" text-anchor="end" transform="rotate(-45 419.95 303.7)" font-size="6.5" fill="#1e1e1e" stroke="#1e1e1e" stroke-width="0.1">721.221 HLA-G</text>
<text x="446.9" y="303.7" text-anchor="end" transform="rotate(-45 446.9 303.7)" font-size="6.5" fill="#1e1e1e" stroke="#1e1e1e" stroke-width="0.1">RPMI 8226</text>
<text x="473.85" y="303.7" text-anchor="end" transform="rotate(-45 473.85 303.7)" font-size="6.5" fill="#1e1e1e" stroke="#1e1e1e" stroke-width="0.1">U266</text>
<text x="500.8" y="303.7" text-anchor="end" transform="rotate(-45 500.8 303.7)" font-size="6.5" fill="#1e1e1e" stroke="#1e1e1e" stroke-width="0.1">U937</text>
<text x="443.35" y="173.1" text-anchor="middle" font-size="8.3" fill="#1e1e1e" stroke="#1e1e1e" stroke-width="0.16" textLength="53.4" lengthAdjust="spacingAndGlyphs">Representative</text>
<text x="443.45" y="183" text-anchor="middle" font-size="8.5" fill="#1e1e1e" stroke="#1e1e1e" stroke-width="0.16" textLength="80.8" lengthAdjust="spacingAndGlyphs">NKG2A(+) NKG2C(–)</text>
<rect x="234.3" y="339.4" width="6.2" height="5.8" fill="#a3a9b0"/>
<text x="243.4" y="344.8" font-size="6.7" fill="#222" stroke="#222" stroke-width="0.1" textLength="39.6" lengthAdjust="spacingAndGlyphs">Isotype control</text>
<rect x="288.9" y="339.4" width="6.4" height="5.8" fill="#17578a"/>
<text x="297.8" y="344.8" font-size="6.6" fill="#222" stroke="#222" stroke-width="0.1">4D7</text>
<path d="M41.7 456.24V456.82M41.7 458.58V459.16M39.7 456.24H43.7M39.7 459.16H43.7" stroke="#2a2a2a" stroke-width="0.75" fill="none"/>
<rect x="38.4" y="456.82" width="6.6" height="1.75" fill="#6b7077" stroke="#111" stroke-width="0.6"/>
<path d="M38.4 457.6H45" stroke="#111" stroke-width="0.7"/>
<g fill="#111"><circle cx="41.7" cy="459.16" r="0.7"/><circle cx="40.5" cy="458.87" r="0.7"/><circle cx="43" cy="458.58" r="0.7"/><circle cx="40.1" cy="458.09" r="0.7"/><circle cx="42.1" cy="457.6" r="0.7"/><circle cx="43.2" cy="457.21" r="0.7"/><circle cx="40.7" cy="456.82" r="0.7"/><circle cx="42.6" cy="456.53" r="0.7"/><circle cx="41.7" cy="456.24" r="0.7"/></g>
<path d="M53 454.68V457.21M53 459.94V465.4M51 454.68H55M51 465.4H55" stroke="#2a2a2a" stroke-width="0.75" fill="none"/>
<rect x="49.6" y="457.21" width="6.8" height="2.73" fill="#1d5e96" stroke="#0d2f50" stroke-width="0.6"/>
<path d="M49.6 458.58H56.4" stroke="#0b2238" stroke-width="0.7"/>
<g fill="#0b2238"><circle cx="53" cy="465.4" r="0.7"/><circle cx="51.8" cy="462.67" r="0.7"/><circle cx="54.3" cy="459.94" r="0.7"/><circle cx="51.4" cy="459.26" r="0.7"/><circle cx="53.4" cy="458.58" r="0.7"/><circle cx="54.5" cy="457.89" r="0.7"/><circle cx="52" cy="457.21" r="0.7"/><circle cx="53.9" cy="455.94" r="0.7"/><circle cx="53" cy="454.68" r="0.7"/></g>
<path d="M41.4 440.2V434.5H53.2 V440.2" fill="none" stroke="#7a7a7a" stroke-width="1.15"/>
<text x="47.3" y="431.6" text-anchor="middle" font-size="6.4" fill="#5a5a5a">ns</text>
<path d="M68.65 453.7V456.43M68.65 459.16V461.5M66.65 453.7H70.65M66.65 461.5H70.65" stroke="#2a2a2a" stroke-width="0.75" fill="none"/>
<rect x="65.35" y="456.43" width="6.6" height="2.73" fill="#6b7077" stroke="#111" stroke-width="0.6"/>
<path d="M65.35 457.6H71.95" stroke="#111" stroke-width="0.7"/>
<g fill="#111"><circle cx="68.65" cy="461.5" r="0.7"/><circle cx="67.45" cy="460.33" r="0.7"/><circle cx="69.95" cy="459.16" r="0.7"/><circle cx="67.05" cy="458.38" r="0.7"/><circle cx="69.05" cy="457.6" r="0.7"/><circle cx="70.15" cy="457.02" r="0.7"/><circle cx="67.65" cy="456.43" r="0.7"/><circle cx="69.55" cy="455.07" r="0.7"/><circle cx="68.65" cy="453.7" r="0.7"/></g>
<path d="M79.95 450.97V455.26M79.95 460.14V464.23M77.95 450.97H81.95M77.95 464.23H81.95" stroke="#2a2a2a" stroke-width="0.75" fill="none"/>
<rect x="76.55" y="455.26" width="6.8" height="4.88" fill="#1d5e96" stroke="#0d2f50" stroke-width="0.6"/>
<path d="M76.55 457.6H83.35" stroke="#0b2238" stroke-width="0.7"/>
<g fill="#0b2238"><circle cx="79.95" cy="464.23" r="0.7"/><circle cx="78.75" cy="462.18" r="0.7"/><circle cx="81.25" cy="460.14" r="0.7"/><circle cx="78.35" cy="458.87" r="0.7"/><circle cx="80.35" cy="457.6" r="0.7"/><circle cx="81.45" cy="456.43" r="0.7"/><circle cx="78.95" cy="455.26" r="0.7"/><circle cx="80.85" cy="453.12" r="0.7"/><circle cx="79.95" cy="450.97" r="0.7"/></g>
<path d="M68.35 440.2V434.5H80.15 V440.2" fill="none" stroke="#7a7a7a" stroke-width="1.15"/>
<text x="74.25" y="431.6" text-anchor="middle" font-size="6.4" fill="#5a5a5a">ns</text>
<path d="M95.6 455.26V456.62M95.6 459.16V461.5M93.6 455.26H97.6M93.6 461.5H97.6" stroke="#2a2a2a" stroke-width="0.75" fill="none"/>
<rect x="92.3" y="456.62" width="6.6" height="2.54" fill="#6b7077" stroke="#111" stroke-width="0.6"/>
<path d="M92.3 457.6H98.9" stroke="#111" stroke-width="0.7"/>
<g fill="#111"><circle cx="95.6" cy="461.5" r="0.7"/><circle cx="94.4" cy="460.33" r="0.7"/><circle cx="96.9" cy="459.16" r="0.7"/><circle cx="94" cy="458.38" r="0.7"/><circle cx="96" cy="457.6" r="0.7"/><circle cx="97.1" cy="457.11" r="0.7"/><circle cx="94.6" cy="456.62" r="0.7"/><circle cx="96.5" cy="455.94" r="0.7"/><circle cx="95.6" cy="455.26" r="0.7"/></g>
<path d="M106.9 452.73V454.68M106.9 457.99V458.58M104.9 452.73H108.9M104.9 458.58H108.9" stroke="#2a2a2a" stroke-width="0.75" fill="none"/>
<rect x="103.5" y="454.68" width="6.8" height="3.31" fill="#1d5e96" stroke="#0d2f50" stroke-width="0.6"/>
<path d="M103.5 456.62H110.3" stroke="#0b2238" stroke-width="0.7"/>
<g fill="#0b2238"><circle cx="106.9" cy="458.58" r="0.7"/><circle cx="105.7" cy="458.28" r="0.7"/><circle cx="108.2" cy="457.99" r="0.7"/><circle cx="105.3" cy="457.31" r="0.7"/><circle cx="107.3" cy="456.62" r="0.7"/><circle cx="108.4" cy="455.65" r="0.7"/><circle cx="105.9" cy="454.68" r="0.7"/><circle cx="107.8" cy="453.7" r="0.7"/><circle cx="106.9" cy="452.73" r="0.7"/></g>
<path d="M95.3 440.2V434.5H107.1 V440.2" fill="none" stroke="#7a7a7a" stroke-width="1.15"/>
<text x="101.2" y="431.6" text-anchor="middle" font-size="6.4" fill="#5a5a5a">ns</text>
<path d="M122.55 455.65V456.62M122.55 459.16V461.11M120.55 455.65H124.55M120.55 461.11H124.55" stroke="#2a2a2a" stroke-width="0.75" fill="none"/>
<rect x="119.25" y="456.62" width="6.6" height="2.54" fill="#6b7077" stroke="#111" stroke-width="0.6"/>
<path d="M119.25 457.6H125.85" stroke="#111" stroke-width="0.7"/>
<g fill="#111"><circle cx="122.55" cy="461.11" r="0.7"/><circle cx="121.35" cy="460.14" r="0.7"/><circle cx="123.85" cy="459.16" r="0.7"/><circle cx="120.95" cy="458.38" r="0.7"/><circle cx="122.95" cy="457.6" r="0.7"/><circle cx="124.05" cy="457.11" r="0.7"/><circle cx="121.55" cy="456.62" r="0.7"/><circle cx="123.45" cy="456.14" r="0.7"/><circle cx="122.55" cy="455.65" r="0.7"/></g>
<path d="M133.85 453.7V455.65M133.85 460.33V462.28M131.85 453.7H135.85M131.85 462.28H135.85" stroke="#2a2a2a" stroke-width="0.75" fill="none"/>
<rect x="130.45" y="455.65" width="6.8" height="4.68" fill="#1d5e96" stroke="#0d2f50" stroke-width="0.6"/>
<path d="M130.45 457.99H137.25" stroke="#0b2238" stroke-width="0.7"/>
<g fill="#0b2238"><circle cx="133.85" cy="462.28" r="0.7"/><circle cx="132.65" cy="461.31" r="0.7"/><circle cx="135.15" cy="460.33" r="0.7"/><circle cx="132.25" cy="459.16" r="0.7"/><circle cx="134.25" cy="457.99" r="0.7"/><circle cx="135.35" cy="456.82" r="0.7"/><circle cx="132.85" cy="455.65" r="0.7"/><circle cx="134.75" cy="454.68" r="0.7"/><circle cx="133.85" cy="453.7" r="0.7"/></g>
<path d="M122.25 440.2V434.5H134.05 V440.2" fill="none" stroke="#7a7a7a" stroke-width="1.15"/>
<text x="128.15" y="431.6" text-anchor="middle" font-size="6.4" fill="#5a5a5a">ns</text>
<path d="M149.5 455.26V456.62M149.5 459.16V461.5M147.5 455.26H151.5M147.5 461.5H151.5" stroke="#2a2a2a" stroke-width="0.75" fill="none"/>
<rect x="146.2" y="456.62" width="6.6" height="2.54" fill="#6b7077" stroke="#111" stroke-width="0.6"/>
<path d="M146.2 457.6H152.8" stroke="#111" stroke-width="0.7"/>
<g fill="#111"><circle cx="149.5" cy="461.5" r="0.7"/><circle cx="148.3" cy="460.33" r="0.7"/><circle cx="150.8" cy="459.16" r="0.7"/><circle cx="147.9" cy="458.38" r="0.7"/><circle cx="149.9" cy="457.6" r="0.7"/><circle cx="151" cy="457.11" r="0.7"/><circle cx="148.5" cy="456.62" r="0.7"/><circle cx="150.4" cy="455.94" r="0.7"/><circle cx="149.5" cy="455.26" r="0.7"/></g>
<path d="M160.8 446.29V452.73M160.8 458.58V460.53M158.8 446.29H162.8M158.8 460.53H162.8" stroke="#2a2a2a" stroke-width="0.75" fill="none"/>
<rect x="157.4" y="452.73" width="6.8" height="5.85" fill="#1d5e96" stroke="#0d2f50" stroke-width="0.6"/>
<path d="M157.4 456.04H164.2" stroke="#0b2238" stroke-width="0.7"/>
<g fill="#0b2238"><circle cx="160.8" cy="460.53" r="0.7"/><circle cx="159.6" cy="459.55" r="0.7"/><circle cx="162.1" cy="458.58" r="0.7"/><circle cx="159.2" cy="457.31" r="0.7"/><circle cx="161.2" cy="456.04" r="0.7"/><circle cx="162.3" cy="454.38" r="0.7"/><circle cx="159.8" cy="452.73" r="0.7"/><circle cx="161.7" cy="449.51" r="0.7"/><circle cx="160.8" cy="446.29" r="0.7"/></g>
<path d="M149.2 440.2V434.5H161 V440.2" fill="none" stroke="#7a7a7a" stroke-width="1.15"/>
<text x="155.1" y="431.6" text-anchor="middle" font-size="6.4" fill="#5a5a5a">ns</text>
<path d="M34.2 376.6V477.1H169.7" fill="none" stroke="#1a1a1a" stroke-width="1.1"/>
<path d="M31.2 477.1H34.2M32.6 467.35H34.2M31.2 457.6H34.2M32.6 447.85H34.2M31.2 438.1H34.2M32.6 428.35H34.2M31.2 418.6H34.2M32.6 408.85H34.2M31.2 399.1H34.2M32.6 389.35H34.2M31.2 379.6H34.2M47.3 477.1V480.3M74.25 477.1V480.3M101.2 477.1V480.3M128.15 477.1V480.3M155.1 477.1V480.3" stroke="#1a1a1a" stroke-width="0.9"/>
<text x="28.3" y="479.6" text-anchor="end" font-size="6.7" fill="#1e1e1e" stroke="#1e1e1e" stroke-width="0.1">0</text>
<text x="28.3" y="460.1" text-anchor="end" font-size="6.7" fill="#1e1e1e" stroke="#1e1e1e" stroke-width="0.1">1</text>
<text x="28.3" y="440.6" text-anchor="end" font-size="6.7" fill="#1e1e1e" stroke="#1e1e1e" stroke-width="0.1">2</text>
<text x="28.3" y="421.1" text-anchor="end" font-size="6.7" fill="#1e1e1e" stroke="#1e1e1e" stroke-width="0.1">3</text>
<text x="28.3" y="401.6" text-anchor="end" font-size="6.7" fill="#1e1e1e" stroke="#1e1e1e" stroke-width="0.1">4</text>
<text x="28.3" y="382.1" text-anchor="end" font-size="6.7" fill="#1e1e1e" stroke="#1e1e1e" stroke-width="0.1">5</text>
<text x="18.2" y="426.6" transform="rotate(-90 18.2 426.6)" text-anchor="middle" font-size="7" font-weight="bold" fill="#222" textLength="51" lengthAdjust="spacingAndGlyphs">CD107a fold change</text>
<text x="51" y="486.4" text-anchor="end" transform="rotate(-45 51 486.4)" font-size="6.5" fill="#1e1e1e" stroke="#1e1e1e" stroke-width="0.1">721.221 WT</text>
<text x="77.95" y="486.4" text-anchor="end" transform="rotate(-45 77.95 486.4)" font-size="6.5" fill="#1e1e1e" stroke="#1e1e1e" stroke-width="0.1">721.221 HLA-G</text>
<text x="104.9" y="486.4" text-anchor="end" transform="rotate(-45 104.9 486.4)" font-size="6.5" fill="#1e1e1e" stroke="#1e1e1e" stroke-width="0.1">RPMI 8226</text>
<text x="131.85" y="486.4" text-anchor="end" transform="rotate(-45 131.85 486.4)" font-size="6.5" fill="#1e1e1e" stroke="#1e1e1e" stroke-width="0.1">U266</text>
<text x="158.8" y="486.4" text-anchor="end" transform="rotate(-45 158.8 486.4)" font-size="6.5" fill="#1e1e1e" stroke="#1e1e1e" stroke-width="0.1">U937</text>
<text x="102.1" y="371.4" text-anchor="middle" font-size="8.5" fill="#1e1e1e" stroke="#1e1e1e" stroke-width="0.16" textLength="80.9" lengthAdjust="spacingAndGlyphs">NKG2A(–) NKG2C(–)</text>
<path d="M212.8 457.21V457.21M212.8 458.77V461.5M210.8 457.21H214.8M210.8 461.5H214.8" stroke="#2a2a2a" stroke-width="0.75" fill="none"/>
<rect x="209.5" y="457.21" width="6.6" height="1.56" fill="#6b7077" stroke="#111" stroke-width="0.6"/>
<path d="M209.5 457.6H216.1" stroke="#111" stroke-width="0.7"/>
<g fill="#111"><circle cx="212.8" cy="461.5" r="0.7"/><circle cx="211.6" cy="460.14" r="0.7"/><circle cx="214.1" cy="458.77" r="0.7"/><circle cx="211.2" cy="458.19" r="0.7"/><circle cx="213.2" cy="457.6" r="0.7"/><circle cx="214.3" cy="457.41" r="0.7"/><circle cx="211.8" cy="457.21" r="0.7"/><circle cx="213.7" cy="457.21" r="0.7"/><circle cx="212.8" cy="457.21" r="0.7"/></g>
<path d="M224.1 452.73V455.26M224.1 459.55V460.53M222.1 452.73H226.1M222.1 460.53H226.1" stroke="#2a2a2a" stroke-width="0.75" fill="none"/>
<rect x="220.7" y="455.26" width="6.8" height="4.29" fill="#1d5e96" stroke="#0d2f50" stroke-width="0.6"/>
<path d="M220.7 457.6H227.5" stroke="#0b2238" stroke-width="0.7"/>
<g fill="#0b2238"><circle cx="224.1" cy="460.53" r="0.7"/><circle cx="222.9" cy="460.04" r="0.7"/><circle cx="225.4" cy="459.55" r="0.7"/><circle cx="222.5" cy="458.58" r="0.7"/><circle cx="224.5" cy="457.6" r="0.7"/><circle cx="225.6" cy="456.43" r="0.7"/><circle cx="223.1" cy="455.26" r="0.7"/><circle cx="225" cy="453.99" r="0.7"/><circle cx="224.1" cy="452.73" r="0.7"/></g>
<path d="M212.5 440.4V434.6H224.3 V440.4" fill="none" stroke="#7a7a7a" stroke-width="1.15"/>
<text x="218.4" y="431.7" text-anchor="middle" font-size="6.4" fill="#5a5a5a">ns</text>
<path d="M239.75 453.7V456.62M239.75 458.58V459.55M237.75 453.7H241.75M237.75 459.55H241.75" stroke="#2a2a2a" stroke-width="0.75" fill="none"/>
<rect x="236.45" y="456.62" width="6.6" height="1.95" fill="#6b7077" stroke="#111" stroke-width="0.6"/>
<path d="M236.45 457.6H243.05" stroke="#111" stroke-width="0.7"/>
<g fill="#111"><circle cx="239.75" cy="459.55" r="0.7"/><circle cx="238.55" cy="459.06" r="0.7"/><circle cx="241.05" cy="458.58" r="0.7"/><circle cx="238.15" cy="458.09" r="0.7"/><circle cx="240.15" cy="457.6" r="0.7"/><circle cx="241.25" cy="457.11" r="0.7"/><circle cx="238.75" cy="456.62" r="0.7"/><circle cx="240.65" cy="455.16" r="0.7"/><circle cx="239.75" cy="453.7" r="0.7"/></g>
<path d="M251.05 458.97V462.48M251.05 465.99V466.96M249.05 458.97H253.05M249.05 466.96H253.05" stroke="#2a2a2a" stroke-width="0.75" fill="none"/>
<rect x="247.65" y="462.48" width="6.8" height="3.51" fill="#1d5e96" stroke="#0d2f50" stroke-width="0.6"/>
<path d="M247.65 464.43H254.45" stroke="#0b2238" stroke-width="0.7"/>
<g fill="#0b2238"><circle cx="251.05" cy="466.96" r="0.7"/><circle cx="249.85" cy="466.47" r="0.7"/><circle cx="252.35" cy="465.99" r="0.7"/><circle cx="249.45" cy="465.21" r="0.7"/><circle cx="251.45" cy="464.43" r="0.7"/><circle cx="252.55" cy="463.45" r="0.7"/><circle cx="250.05" cy="462.48" r="0.7"/><circle cx="251.95" cy="460.72" r="0.7"/><circle cx="251.05" cy="458.97" r="0.7"/></g>
<path d="M239.45 440.4V434.6H251.25 V440.4" fill="none" stroke="#7a7a7a" stroke-width="1.15"/>
<circle cx="241.65" cy="428.6" r="1.05" fill="#2a2a2a"/><circle cx="244.25" cy="428.6" r="1.05" fill="#2a2a2a"/><circle cx="246.85" cy="428.6" r="1.05" fill="#2a2a2a"/><circle cx="249.45" cy="428.6" r="1.05" fill="#2a2a2a"/>
<path d="M266.7 453.7V456.04M266.7 458.77V460.53M264.7 453.7H268.7M264.7 460.53H268.7" stroke="#2a2a2a" stroke-width="0.75" fill="none"/>
<rect x="263.4" y="456.04" width="6.6" height="2.73" fill="#6b7077" stroke="#111" stroke-width="0.6"/>
<path d="M263.4 457.6H270" stroke="#111" stroke-width="0.7"/>
<g fill="#111"><circle cx="266.7" cy="460.53" r="0.7"/><circle cx="265.5" cy="459.65" r="0.7"/><circle cx="268" cy="458.77" r="0.7"/><circle cx="265.1" cy="458.19" r="0.7"/><circle cx="267.1" cy="457.6" r="0.7"/><circle cx="268.2" cy="456.82" r="0.7"/><circle cx="265.7" cy="456.04" r="0.7"/><circle cx="267.6" cy="454.87" r="0.7"/><circle cx="266.7" cy="453.7" r="0.7"/></g>
<path d="M278 456.62V456.62M278 459.55V466.38M276 456.62H280M276 466.38H280" stroke="#2a2a2a" stroke-width="0.75" fill="none"/>
<rect x="274.6" y="456.62" width="6.8" height="2.93" fill="#1d5e96" stroke="#0d2f50" stroke-width="0.6"/>
<path d="M274.6 457.6H281.4" stroke="#0b2238" stroke-width="0.7"/>
<g fill="#0b2238"><circle cx="278" cy="466.38" r="0.7"/><circle cx="276.8" cy="462.96" r="0.7"/><circle cx="279.3" cy="459.55" r="0.7"/><circle cx="276.4" cy="458.58" r="0.7"/><circle cx="278.4" cy="457.6" r="0.7"/><circle cx="279.5" cy="457.11" r="0.7"/><circle cx="277" cy="456.62" r="0.7"/><circle cx="278.9" cy="456.62" r="0.7"/><circle cx="278" cy="456.62" r="0.7"/></g>
<path d="M266.4 440.4V434.6H278.2 V440.4" fill="none" stroke="#7a7a7a" stroke-width="1.15"/>
<text x="272.3" y="431.7" text-anchor="middle" font-size="6.4" fill="#5a5a5a">ns</text>
<path d="M293.65 456.82V457.6M293.65 458.77V466.38M291.65 456.82H295.65M291.65 466.38H295.65" stroke="#2a2a2a" stroke-width="0.75" fill="none"/>
<rect x="290.35" y="457.6" width="6.6" height="1.17" fill="#6b7077" stroke="#111" stroke-width="0.6"/>
<path d="M290.35 457.6H296.95" stroke="#111" stroke-width="0.7"/>
<g fill="#111"><circle cx="293.65" cy="466.38" r="0.7"/><circle cx="292.45" cy="462.57" r="0.7"/><circle cx="294.95" cy="458.77" r="0.7"/><circle cx="292.05" cy="458.19" r="0.7"/><circle cx="294.05" cy="457.6" r="0.7"/><circle cx="295.15" cy="457.6" r="0.7"/><circle cx="292.65" cy="457.6" r="0.7"/><circle cx="294.55" cy="457.21" r="0.7"/><circle cx="293.65" cy="456.82" r="0.7"/></g>
<path d="M304.95 456.62V457.6M304.95 458.58V459.55M302.95 456.62H306.95M302.95 459.55H306.95" stroke="#2a2a2a" stroke-width="0.75" fill="none"/>
<rect x="301.55" y="457.6" width="6.8" height="0.98" fill="#1d5e96" stroke="#0d2f50" stroke-width="0.6"/>
<path d="M301.55 457.99H308.35" stroke="#0b2238" stroke-width="0.7"/>
<g fill="#0b2238"><circle cx="304.95" cy="459.55" r="0.7"/><circle cx="303.75" cy="459.06" r="0.7"/><circle cx="306.25" cy="458.58" r="0.7"/><circle cx="303.35" cy="458.28" r="0.7"/><circle cx="305.35" cy="457.99" r="0.7"/><circle cx="306.45" cy="457.8" r="0.7"/><circle cx="303.95" cy="457.6" r="0.7"/><circle cx="305.85" cy="457.11" r="0.7"/><circle cx="304.95" cy="456.62" r="0.7"/></g>
<path d="M293.35 440.4V434.6H305.15 V440.4" fill="none" stroke="#7a7a7a" stroke-width="1.15"/>
<text x="299.25" y="431.7" text-anchor="middle" font-size="6.4" fill="#5a5a5a">ns</text>
<path d="M320.6 449.41V456.04M320.6 459.55V463.45M318.6 449.41H322.6M318.6 463.45H322.6" stroke="#2a2a2a" stroke-width="0.75" fill="none"/>
<rect x="317.3" y="456.04" width="6.6" height="3.51" fill="#6b7077" stroke="#111" stroke-width="0.6"/>
<path d="M317.3 457.6H323.9" stroke="#111" stroke-width="0.7"/>
<g fill="#111"><circle cx="320.6" cy="463.45" r="0.7"/><circle cx="319.4" cy="461.5" r="0.7"/><circle cx="321.9" cy="459.55" r="0.7"/><circle cx="319" cy="458.58" r="0.7"/><circle cx="321" cy="457.6" r="0.7"/><circle cx="322.1" cy="456.82" r="0.7"/><circle cx="319.6" cy="456.04" r="0.7"/><circle cx="321.5" cy="452.73" r="0.7"/><circle cx="320.6" cy="449.41" r="0.7"/></g>
<path d="M331.9 447.46V452.73M331.9 461.11V462.28M329.9 447.46H333.9M329.9 462.28H333.9" stroke="#2a2a2a" stroke-width="0.75" fill="none"/>
<rect x="328.5" y="452.73" width="6.8" height="8.38" fill="#1d5e96" stroke="#0d2f50" stroke-width="0.6"/>
<path d="M328.5 456.62H335.3" stroke="#0b2238" stroke-width="0.7"/>
<g fill="#0b2238"><circle cx="331.9" cy="462.28" r="0.7"/><circle cx="330.7" cy="461.7" r="0.7"/><circle cx="333.2" cy="461.11" r="0.7"/><circle cx="330.3" cy="458.87" r="0.7"/><circle cx="332.3" cy="456.62" r="0.7"/><circle cx="333.4" cy="454.68" r="0.7"/><circle cx="330.9" cy="452.73" r="0.7"/><circle cx="332.8" cy="450.09" r="0.7"/><circle cx="331.9" cy="447.46" r="0.7"/></g>
<path d="M320.3 440.4V434.6H332.1 V440.4" fill="none" stroke="#7a7a7a" stroke-width="1.15"/>
<text x="326.2" y="431.7" text-anchor="middle" font-size="6.4" fill="#5a5a5a">ns</text>
<path d="M205.3 376.6V477.1H340.8" fill="none" stroke="#1a1a1a" stroke-width="1.1"/>
<path d="M202.3 477.1H205.3M203.7 467.35H205.3M202.3 457.6H205.3M203.7 447.85H205.3M202.3 438.1H205.3M203.7 428.35H205.3M202.3 418.6H205.3M203.7 408.85H205.3M202.3 399.1H205.3M203.7 389.35H205.3M202.3 379.6H205.3M218.4 477.1V480.3M245.35 477.1V480.3M272.3 477.1V480.3M299.25 477.1V480.3M326.2 477.1V480.3" stroke="#1a1a1a" stroke-width="0.9"/>
<text x="199.4" y="479.6" text-anchor="end" font-size="6.7" fill="#1e1e1e" stroke="#1e1e1e" stroke-width="0.1">0</text>
<text x="199.4" y="460.1" text-anchor="end" font-size="6.7" fill="#1e1e1e" stroke="#1e1e1e" stroke-width="0.1">1</text>
<text x="199.4" y="440.6" text-anchor="end" font-size="6.7" fill="#1e1e1e" stroke="#1e1e1e" stroke-width="0.1">2</text>
<text x="199.4" y="421.1" text-anchor="end" font-size="6.7" fill="#1e1e1e" stroke="#1e1e1e" stroke-width="0.1">3</text>
<text x="199.4" y="401.6" text-anchor="end" font-size="6.7" fill="#1e1e1e" stroke="#1e1e1e" stroke-width="0.1">4</text>
<text x="199.4" y="382.1" text-anchor="end" font-size="6.7" fill="#1e1e1e" stroke="#1e1e1e" stroke-width="0.1">5</text>
<text x="189.3" y="426.6" transform="rotate(-90 189.3 426.6)" text-anchor="middle" font-size="7" font-weight="bold" fill="#222" textLength="51" lengthAdjust="spacingAndGlyphs">CD107a fold change</text>
<text x="222.1" y="486.4" text-anchor="end" transform="rotate(-45 222.1 486.4)" font-size="6.5" fill="#1e1e1e" stroke="#1e1e1e" stroke-width="0.1">721.221 WT</text>
<text x="249.05" y="486.4" text-anchor="end" transform="rotate(-45 249.05 486.4)" font-size="6.5" fill="#1e1e1e" stroke="#1e1e1e" stroke-width="0.1">721.221 HLA-G</text>
<text x="276" y="486.4" text-anchor="end" transform="rotate(-45 276 486.4)" font-size="6.5" fill="#1e1e1e" stroke="#1e1e1e" stroke-width="0.1">RPMI 8226</text>
<text x="302.95" y="486.4" text-anchor="end" transform="rotate(-45 302.95 486.4)" font-size="6.5" fill="#1e1e1e" stroke="#1e1e1e" stroke-width="0.1">U266</text>
<text x="329.9" y="486.4" text-anchor="end" transform="rotate(-45 329.9 486.4)" font-size="6.5" fill="#1e1e1e" stroke="#1e1e1e" stroke-width="0.1">U937</text>
<text x="273.2" y="371.4" text-anchor="middle" font-size="8.5" fill="#1e1e1e" stroke="#1e1e1e" stroke-width="0.16" textLength="80.9" lengthAdjust="spacingAndGlyphs">NKG2A(–) NKG2C(+)</text>
<path d="M383.7 457.21V457.21M383.7 457.99V457.99M381.7 457.21H385.7M381.7 457.99H385.7" stroke="#2a2a2a" stroke-width="0.75" fill="none"/>
<rect x="380.4" y="457.21" width="6.6" height="0.9" fill="#6b7077" stroke="#111" stroke-width="0.6"/>
<path d="M380.4 457.6H387" stroke="#111" stroke-width="0.7"/>
<g fill="#111"><circle cx="383.7" cy="457.99" r="0.7"/><circle cx="382.5" cy="457.99" r="0.7"/><circle cx="385" cy="457.99" r="0.7"/><circle cx="382.1" cy="457.8" r="0.7"/><circle cx="384.1" cy="457.6" r="0.7"/><circle cx="385.2" cy="457.41" r="0.7"/><circle cx="382.7" cy="457.21" r="0.7"/><circle cx="384.6" cy="457.21" r="0.7"/><circle cx="383.7" cy="457.21" r="0.7"/></g>
<path d="M395 456.62V457.21M395 459.55V461.5M393 456.62H397M393 461.5H397" stroke="#2a2a2a" stroke-width="0.75" fill="none"/>
<rect x="391.6" y="457.21" width="6.8" height="2.34" fill="#1d5e96" stroke="#0d2f50" stroke-width="0.6"/>
<path d="M391.6 458.19H398.4" stroke="#0b2238" stroke-width="0.7"/>
<g fill="#0b2238"><circle cx="395" cy="461.5" r="0.7"/><circle cx="393.8" cy="460.53" r="0.7"/><circle cx="396.3" cy="459.55" r="0.7"/><circle cx="393.4" cy="458.87" r="0.7"/><circle cx="395.4" cy="458.19" r="0.7"/><circle cx="396.5" cy="457.7" r="0.7"/><circle cx="394" cy="457.21" r="0.7"/><circle cx="395.9" cy="456.92" r="0.7"/><circle cx="395" cy="456.62" r="0.7"/></g>
<path d="M383.4 397.6V392.2H395.2 V397.6" fill="none" stroke="#7a7a7a" stroke-width="1.15"/>
<text x="389.3" y="389.3" text-anchor="middle" font-size="6.4" fill="#5a5a5a">ns</text>
<path d="M410.65 456.62V457.02M410.65 458.58V459.55M408.65 456.62H412.65M408.65 459.55H412.65" stroke="#2a2a2a" stroke-width="0.75" fill="none"/>
<rect x="407.35" y="457.02" width="6.6" height="1.56" fill="#6b7077" stroke="#111" stroke-width="0.6"/>
<path d="M407.35 457.6H413.95" stroke="#111" stroke-width="0.7"/>
<g fill="#111"><circle cx="410.65" cy="459.55" r="0.7"/><circle cx="409.45" cy="459.06" r="0.7"/><circle cx="411.95" cy="458.58" r="0.7"/><circle cx="409.05" cy="458.09" r="0.7"/><circle cx="411.05" cy="457.6" r="0.7"/><circle cx="412.15" cy="457.31" r="0.7"/><circle cx="409.65" cy="457.02" r="0.7"/><circle cx="411.55" cy="456.82" r="0.7"/><circle cx="410.65" cy="456.62" r="0.7"/></g>
<path d="M421.95 430.3V437.12M421.95 447.85V451.17M419.95 430.3H423.95M419.95 451.17H423.95" stroke="#2a2a2a" stroke-width="0.75" fill="none"/>
<rect x="418.55" y="437.12" width="6.8" height="10.73" fill="#1d5e96" stroke="#0d2f50" stroke-width="0.6"/>
<path d="M418.55 442H425.35" stroke="#0b2238" stroke-width="0.7"/>
<g fill="#0b2238"><circle cx="421.95" cy="451.17" r="0.7"/><circle cx="420.75" cy="449.51" r="0.7"/><circle cx="423.25" cy="447.85" r="0.7"/><circle cx="420.35" cy="444.93" r="0.7"/><circle cx="422.35" cy="442" r="0.7"/><circle cx="423.45" cy="439.56" r="0.7"/><circle cx="420.95" cy="437.12" r="0.7"/><circle cx="422.85" cy="433.71" r="0.7"/><circle cx="421.95" cy="430.3" r="0.7"/></g>
<path d="M410.35 397.6V392.2H422.15 V397.6" fill="none" stroke="#7a7a7a" stroke-width="1.15"/>
<circle cx="412.55" cy="388.8" r="1.05" fill="#2a2a2a"/><circle cx="415.15" cy="388.8" r="1.05" fill="#2a2a2a"/><circle cx="417.75" cy="388.8" r="1.05" fill="#2a2a2a"/><circle cx="420.35" cy="388.8" r="1.05" fill="#2a2a2a"/>
<path d="M437.6 453.31V456.62M437.6 458.58V459.55M435.6 453.31H439.6M435.6 459.55H439.6" stroke="#2a2a2a" stroke-width="0.75" fill="none"/>
<rect x="434.3" y="456.62" width="6.6" height="1.95" fill="#6b7077" stroke="#111" stroke-width="0.6"/>
<path d="M434.3 457.6H440.9" stroke="#111" stroke-width="0.7"/>
<g fill="#111"><circle cx="437.6" cy="459.55" r="0.7"/><circle cx="436.4" cy="459.06" r="0.7"/><circle cx="438.9" cy="458.58" r="0.7"/><circle cx="436" cy="458.09" r="0.7"/><circle cx="438" cy="457.6" r="0.7"/><circle cx="439.1" cy="457.11" r="0.7"/><circle cx="436.6" cy="456.62" r="0.7"/><circle cx="438.5" cy="454.97" r="0.7"/><circle cx="437.6" cy="453.31" r="0.7"/></g>
<path d="M448.9 403.98V410.8M448.9 439.08V450.78M446.9 403.98H450.9M446.9 450.78H450.9" stroke="#2a2a2a" stroke-width="0.75" fill="none"/>
<rect x="445.5" y="410.8" width="6.8" height="28.28" fill="#1d5e96" stroke="#0d2f50" stroke-width="0.6"/>
<path d="M445.5 432.25H452.3" stroke="#0b2238" stroke-width="0.7"/>
<g fill="#0b2238"><circle cx="448.9" cy="450.78" r="0.7"/><circle cx="447.7" cy="444.93" r="0.7"/><circle cx="450.2" cy="439.08" r="0.7"/><circle cx="447.3" cy="435.66" r="0.7"/><circle cx="449.3" cy="432.25" r="0.7"/><circle cx="450.4" cy="421.53" r="0.7"/><circle cx="447.9" cy="410.8" r="0.7"/><circle cx="449.8" cy="407.39" r="0.7"/><circle cx="448.9" cy="403.98" r="0.7"/></g>
<path d="M437.3 397.6V392.2H449.1 V397.6" fill="none" stroke="#7a7a7a" stroke-width="1.15"/>
<circle cx="439.5" cy="388.8" r="1.05" fill="#2a2a2a"/><circle cx="442.1" cy="388.8" r="1.05" fill="#2a2a2a"/><circle cx="444.7" cy="388.8" r="1.05" fill="#2a2a2a"/><circle cx="447.3" cy="388.8" r="1.05" fill="#2a2a2a"/>
<path d="M464.55 456.62V457.02M464.55 458.19V458.58M462.55 456.62H466.55M462.55 458.58H466.55" stroke="#2a2a2a" stroke-width="0.75" fill="none"/>
<rect x="461.25" y="457.02" width="6.6" height="1.17" fill="#6b7077" stroke="#111" stroke-width="0.6"/>
<path d="M461.25 457.6H467.85" stroke="#111" stroke-width="0.7"/>
<g fill="#111"><circle cx="464.55" cy="458.58" r="0.7"/><circle cx="463.35" cy="458.38" r="0.7"/><circle cx="465.85" cy="458.19" r="0.7"/><circle cx="462.95" cy="457.89" r="0.7"/><circle cx="464.95" cy="457.6" r="0.7"/><circle cx="466.05" cy="457.31" r="0.7"/><circle cx="463.55" cy="457.02" r="0.7"/><circle cx="465.45" cy="456.82" r="0.7"/><circle cx="464.55" cy="456.62" r="0.7"/></g>
<path d="M475.85 405.93V428.35M475.85 433.23V434.79M473.85 405.93H477.85M473.85 434.79H477.85" stroke="#2a2a2a" stroke-width="0.75" fill="none"/>
<rect x="472.45" y="428.35" width="6.8" height="4.88" fill="#1d5e96" stroke="#0d2f50" stroke-width="0.6"/>
<path d="M472.45 430.3H479.25" stroke="#0b2238" stroke-width="0.7"/>
<g fill="#0b2238"><circle cx="475.85" cy="434.79" r="0.7"/><circle cx="474.65" cy="434" r="0.7"/><circle cx="477.15" cy="433.23" r="0.7"/><circle cx="474.25" cy="431.76" r="0.7"/><circle cx="476.25" cy="430.3" r="0.7"/><circle cx="477.35" cy="429.33" r="0.7"/><circle cx="474.85" cy="428.35" r="0.7"/><circle cx="476.75" cy="417.14" r="0.7"/><circle cx="475.85" cy="405.93" r="0.7"/></g>
<path d="M464.25 397.6V392.2H476.05 V397.6" fill="none" stroke="#7a7a7a" stroke-width="1.15"/>
<circle cx="466.45" cy="388.8" r="1.05" fill="#2a2a2a"/><circle cx="469.05" cy="388.8" r="1.05" fill="#2a2a2a"/><circle cx="471.65" cy="388.8" r="1.05" fill="#2a2a2a"/><circle cx="474.25" cy="388.8" r="1.05" fill="#2a2a2a"/>
<path d="M491.5 453.31V457.6M491.5 458.58V460.53M489.5 453.31H493.5M489.5 460.53H493.5" stroke="#2a2a2a" stroke-width="0.75" fill="none"/>
<rect x="488.2" y="457.6" width="6.6" height="0.98" fill="#6b7077" stroke="#111" stroke-width="0.6"/>
<path d="M488.2 457.6H494.8" stroke="#111" stroke-width="0.7"/>
<g fill="#111"><circle cx="491.5" cy="460.53" r="0.7"/><circle cx="490.3" cy="459.55" r="0.7"/><circle cx="492.8" cy="458.58" r="0.7"/><circle cx="489.9" cy="458.09" r="0.7"/><circle cx="491.9" cy="457.6" r="0.7"/><circle cx="493" cy="457.6" r="0.7"/><circle cx="490.5" cy="457.6" r="0.7"/><circle cx="492.4" cy="455.46" r="0.7"/><circle cx="491.5" cy="453.31" r="0.7"/></g>
<path d="M502.8 418.6V427.38M502.8 441.03V450.78M500.8 418.6H504.8M500.8 450.78H504.8" stroke="#2a2a2a" stroke-width="0.75" fill="none"/>
<rect x="499.4" y="427.38" width="6.8" height="13.65" fill="#1d5e96" stroke="#0d2f50" stroke-width="0.6"/>
<path d="M499.4 434.2H506.2" stroke="#0b2238" stroke-width="0.7"/>
<g fill="#0b2238"><circle cx="502.8" cy="450.78" r="0.7"/><circle cx="501.6" cy="445.9" r="0.7"/><circle cx="504.1" cy="441.03" r="0.7"/><circle cx="501.2" cy="437.61" r="0.7"/><circle cx="503.2" cy="434.2" r="0.7"/><circle cx="504.3" cy="430.79" r="0.7"/><circle cx="501.8" cy="427.38" r="0.7"/><circle cx="503.7" cy="422.99" r="0.7"/><circle cx="502.8" cy="418.6" r="0.7"/></g>
<path d="M491.2 397.6V392.2H503 V397.6" fill="none" stroke="#7a7a7a" stroke-width="1.15"/>
<circle cx="493.4" cy="388.8" r="1.05" fill="#2a2a2a"/><circle cx="496" cy="388.8" r="1.05" fill="#2a2a2a"/><circle cx="498.6" cy="388.8" r="1.05" fill="#2a2a2a"/><circle cx="501.2" cy="388.8" r="1.05" fill="#2a2a2a"/>
<path d="M376.2 376.6V477.1H511.7" fill="none" stroke="#1a1a1a" stroke-width="1.1"/>
<path d="M373.2 477.1H376.2M374.6 467.35H376.2M373.2 457.6H376.2M374.6 447.85H376.2M373.2 438.1H376.2M374.6 428.35H376.2M373.2 418.6H376.2M374.6 408.85H376.2M373.2 399.1H376.2M374.6 389.35H376.2M373.2 379.6H376.2M389.3 477.1V480.3M416.25 477.1V480.3M443.2 477.1V480.3M470.15 477.1V480.3M497.1 477.1V480.3" stroke="#1a1a1a" stroke-width="0.9"/>
<text x="370.3" y="479.6" text-anchor="end" font-size="6.7" fill="#1e1e1e" stroke="#1e1e1e" stroke-width="0.1">0</text>
<text x="370.3" y="460.1" text-anchor="end" font-size="6.7" fill="#1e1e1e" stroke="#1e1e1e" stroke-width="0.1">1</text>
<text x="370.3" y="440.6" text-anchor="end" font-size="6.7" fill="#1e1e1e" stroke="#1e1e1e" stroke-width="0.1">2</text>
<text x="370.3" y="421.1" text-anchor="end" font-size="6.7" fill="#1e1e1e" stroke="#1e1e1e" stroke-width="0.1">3</text>
<text x="370.3" y="401.6" text-anchor="end" font-size="6.7" fill="#1e1e1e" stroke="#1e1e1e" stroke-width="0.1">4</text>
<text x="370.3" y="382.1" text-anchor="end" font-size="6.7" fill="#1e1e1e" stroke="#1e1e1e" stroke-width="0.1">5</text>
<text x="360.2" y="426.6" transform="rotate(-90 360.2 426.6)" text-anchor="middle" font-size="7" font-weight="bold" fill="#222" textLength="51" lengthAdjust="spacingAndGlyphs">CD107a fold change</text>
<text x="393" y="486.4" text-anchor="end" transform="rotate(-45 393 486.4)" font-size="6.5" fill="#1e1e1e" stroke="#1e1e1e" stroke-width="0.1">721.221 WT</text>
<text x="419.95" y="486.4" text-anchor="end" transform="rotate(-45 419.95 486.4)" font-size="6.5" fill="#1e1e1e" stroke="#1e1e1e" stroke-width="0.1">721.221 HLA-G</text>
<text x="446.9" y="486.4" text-anchor="end" transform="rotate(-45 446.9 486.4)" font-size="6.5" fill="#1e1e1e" stroke="#1e1e1e" stroke-width="0.1">RPMI 8226</text>
<text x="473.85" y="486.4" text-anchor="end" transform="rotate(-45 473.85 486.4)" font-size="6.5" fill="#1e1e1e" stroke="#1e1e1e" stroke-width="0.1">U266</text>
<text x="500.8" y="486.4" text-anchor="end" transform="rotate(-45 500.8 486.4)" font-size="6.5" fill="#1e1e1e" stroke="#1e1e1e" stroke-width="0.1">U937</text>
<text x="444" y="371.4" text-anchor="middle" font-size="8.5" fill="#1e1e1e" stroke="#1e1e1e" stroke-width="0.16" textLength="80.9" lengthAdjust="spacingAndGlyphs">NKG2A(+) NKG2C(–)</text>
<rect x="235.5" y="521.8" width="5.8" height="5.8" fill="#a3a9b0"/>
<text x="244.2" y="527.4" font-size="6.7" fill="#222" stroke="#222" stroke-width="0.1" textLength="39.6" lengthAdjust="spacingAndGlyphs">Isotype control</text>
<rect x="289.7" y="521.8" width="6.2" height="5.8" fill="#17578a"/>
<text x="298.3" y="527.4" font-size="6.6" fill="#222" stroke="#222" stroke-width="0.1">4D7</text>
<text x="6.6" y="15.8" font-size="11.2" font-weight="bold" fill="#111">A</text>
<text x="6.4" y="176" font-size="11.2" font-weight="bold" fill="#111">B</text>
<text x="12.7" y="370.7" font-size="11.2" font-weight="bold" fill="#111">C</text>
<path d="M0.5 0.5H519.3V534.2H0.5Z" fill="none" stroke="#4a4a4a" stroke-width="1.2"/>
</svg></body></html>
